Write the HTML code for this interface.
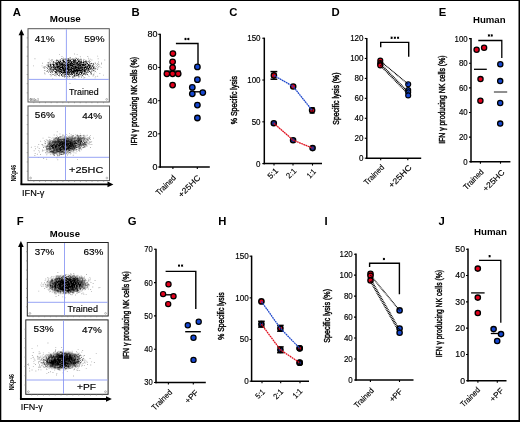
<!DOCTYPE html>
<html><head><meta charset="utf-8"><style>
html,body{margin:0;padding:0;background:#fff;}
svg{display:block;will-change:transform;}
text{font-family:"Liberation Sans", sans-serif;}
</style></head><body>
<svg width="520" height="422" viewBox="0 0 520 422" xmlns="http://www.w3.org/2000/svg">
<defs><filter id="gblur" x="0" y="0" width="100%" height="100%" filterUnits="userSpaceOnUse"><feGaussianBlur stdDeviation="0.3"/></filter></defs>
<g filter="url(#gblur)">
<defs><radialGradient id="cg"><stop offset="0" stop-color="#000" stop-opacity="0.88"/><stop offset="0.35" stop-color="#000" stop-opacity="0.84"/><stop offset="0.6" stop-color="#000" stop-opacity="0.7"/><stop offset="0.8" stop-color="#000" stop-opacity="0.46"/><stop offset="0.92" stop-color="#000" stop-opacity="0.22"/><stop offset="1" stop-color="#000" stop-opacity="0"/></radialGradient><radialGradient id="cgd"><stop offset="0" stop-color="#000" stop-opacity="1.0"/><stop offset="0.35" stop-color="#000" stop-opacity="0.96"/><stop offset="0.6" stop-color="#000" stop-opacity="0.8"/><stop offset="0.8" stop-color="#000" stop-opacity="0.5"/><stop offset="0.92" stop-color="#000" stop-opacity="0.24"/><stop offset="1" stop-color="#000" stop-opacity="0"/></radialGradient><filter id="sp1" x="-10%" y="-10%" width="120%" height="120%"><feTurbulence type="fractalNoise" baseFrequency="1.4" numOctaves="2" seed="5" result="n"/><feColorMatrix in="n" type="matrix" values="0 0 0 0 0  0 0 0 0 0  0 0 0 0 0  1.6 0 0 0 -0.5" result="na"/><feComposite in="SourceGraphic" in2="na" operator="arithmetic" k1="0" k2="1.5" k3="-1.5" k4="0"/></filter><filter id="sp2" x="-10%" y="-10%" width="120%" height="120%"><feTurbulence type="fractalNoise" baseFrequency="1.4" numOctaves="2" seed="10" result="n"/><feColorMatrix in="n" type="matrix" values="0 0 0 0 0  0 0 0 0 0  0 0 0 0 0  1.6 0 0 0 -0.5" result="na"/><feComposite in="SourceGraphic" in2="na" operator="arithmetic" k1="0" k2="1.5" k3="-1.5" k4="0"/></filter><filter id="sp3" x="-10%" y="-10%" width="120%" height="120%"><feTurbulence type="fractalNoise" baseFrequency="1.4" numOctaves="2" seed="15" result="n"/><feColorMatrix in="n" type="matrix" values="0 0 0 0 0  0 0 0 0 0  0 0 0 0 0  1.6 0 0 0 -0.5" result="na"/><feComposite in="SourceGraphic" in2="na" operator="arithmetic" k1="0" k2="1.5" k3="-1.5" k4="0"/></filter><filter id="sp4" x="-10%" y="-10%" width="120%" height="120%"><feTurbulence type="fractalNoise" baseFrequency="1.4" numOctaves="2" seed="20" result="n"/><feColorMatrix in="n" type="matrix" values="0 0 0 0 0  0 0 0 0 0  0 0 0 0 0  1.6 0 0 0 -0.5" result="na"/><feComposite in="SourceGraphic" in2="na" operator="arithmetic" k1="0" k2="1.5" k3="-1.5" k4="0"/></filter><filter id="soft" x="-5%" y="-5%" width="110%" height="110%"><feGaussianBlur stdDeviation="0.4"/></filter></defs>
<rect x="0" y="0" width="520" height="422" fill="#000"/>
<rect x="1.3" y="1" width="517.2" height="419" fill="#fff"/>
<text x="12.8" y="15.86" font-size="11.3" font-weight="bold">A</text>
<text x="131.45" y="16.08" font-size="11.3" font-weight="bold">B</text>
<text x="229.22" y="15.57" font-size="11.3" font-weight="bold">C</text>
<text x="331.58" y="15.78" font-size="11.3" font-weight="bold">D</text>
<text x="438.69" y="15.78" font-size="11.3" font-weight="bold">E</text>
<text x="16.69" y="224.97" font-size="11.3" font-weight="bold">F</text>
<text x="127.72" y="224.89" font-size="11.3" font-weight="bold">G</text>
<text x="218.36" y="225.45" font-size="11.3" font-weight="bold">H</text>
<text x="324.46" y="225.45" font-size="11.3" font-weight="bold">I</text>
<text x="438.47" y="225.47" font-size="11.3" font-weight="bold">J</text>
<text x="49.75" y="22.31" font-size="9.3" font-weight="bold" textLength="31.05" lengthAdjust="spacingAndGlyphs">Mouse</text>
<rect x="28.0" y="28.7" width="81.30" height="73.30" fill="#fff" stroke="#555" stroke-width="1.0"/>
<g filter="url(#soft)">
<ellipse cx="71.0" cy="67.6" rx="29.2" ry="10.9" fill="url(#cg)" fill-opacity="1.0" filter="url(#sp1)" transform="rotate(0 71.0 67.6)"/>
<path d="M71.0 68.8h.9v.9h-.9zM67.8 64.0h.9v.9h-.9zM65.7 63.6h.9v.9h-.9zM71.7 73.1h.9v.9h-.9zM65.2 65.1h.9v.9h-.9zM76.7 69.1h.9v.9h-.9zM72.2 63.8h.9v.9h-.9zM70.7 70.4h.9v.9h-.9zM55.3 65.7h.9v.9h-.9zM48.8 62.3h.9v.9h-.9zM49.5 66.6h.9v.9h-.9zM56.2 68.7h.9v.9h-.9zM72.8 66.8h.9v.9h-.9zM41.6 65.4h.9v.9h-.9zM70.4 68.1h.9v.9h-.9zM53.1 65.7h.9v.9h-.9zM59.6 64.3h.9v.9h-.9zM83.4 64.3h.9v.9h-.9zM70.6 71.2h.9v.9h-.9zM64.2 67.1h.9v.9h-.9zM72.3 67.9h.9v.9h-.9zM56.7 67.9h.9v.9h-.9zM86.9 61.3h.9v.9h-.9zM81.1 68.1h.9v.9h-.9zM63.5 75.8h.9v.9h-.9zM79.9 62.7h.9v.9h-.9zM71.9 70.0h.9v.9h-.9zM68.8 70.4h.9v.9h-.9zM70.2 70.3h.9v.9h-.9zM87.8 64.8h.9v.9h-.9zM73.4 65.7h.9v.9h-.9zM72.5 62.8h.9v.9h-.9zM64.2 66.8h.9v.9h-.9zM81.5 72.3h.9v.9h-.9zM55.5 64.4h.9v.9h-.9zM78.6 59.5h.9v.9h-.9zM65.6 67.2h.9v.9h-.9zM85.7 70.4h.9v.9h-.9zM67.2 66.1h.9v.9h-.9zM68.1 73.8h.9v.9h-.9zM66.0 66.4h.9v.9h-.9zM75.1 67.1h.9v.9h-.9zM68.7 63.1h.9v.9h-.9zM70.9 65.8h.9v.9h-.9zM84.6 70.3h.9v.9h-.9zM70.7 70.3h.9v.9h-.9zM67.0 71.9h.9v.9h-.9zM70.9 70.0h.9v.9h-.9zM55.9 69.0h.9v.9h-.9zM51.2 59.3h.9v.9h-.9zM67.4 63.9h.9v.9h-.9zM72.9 76.8h.9v.9h-.9zM61.3 65.1h.9v.9h-.9zM73.4 69.6h.9v.9h-.9zM68.9 66.8h.9v.9h-.9zM79.2 69.7h.9v.9h-.9zM58.9 67.3h.9v.9h-.9zM71.4 63.3h.9v.9h-.9zM74.0 64.1h.9v.9h-.9zM82.4 68.4h.9v.9h-.9zM72.0 65.2h.9v.9h-.9zM69.6 59.4h.9v.9h-.9zM57.8 69.1h.9v.9h-.9zM46.1 71.1h.9v.9h-.9zM50.6 70.7h.9v.9h-.9zM61.1 70.8h.9v.9h-.9zM72.5 61.3h.9v.9h-.9zM85.6 73.5h.9v.9h-.9zM70.2 66.5h.9v.9h-.9zM69.1 63.6h.9v.9h-.9zM83.9 65.4h.9v.9h-.9zM70.4 64.4h.9v.9h-.9zM63.7 62.4h.9v.9h-.9zM85.7 67.0h.9v.9h-.9zM82.3 67.7h.9v.9h-.9zM62.9 66.3h.9v.9h-.9zM64.4 67.6h.9v.9h-.9zM66.6 66.4h.9v.9h-.9zM54.9 64.3h.9v.9h-.9zM90.4 64.9h.9v.9h-.9zM58.7 69.0h.9v.9h-.9zM87.5 61.7h.9v.9h-.9zM68.6 65.0h.9v.9h-.9zM50.4 70.6h.9v.9h-.9zM70.7 67.9h.9v.9h-.9zM62.2 69.5h.9v.9h-.9zM64.7 67.0h.9v.9h-.9zM58.0 62.6h.9v.9h-.9zM86.6 65.5h.9v.9h-.9zM74.4 67.5h.9v.9h-.9zM65.8 65.5h.9v.9h-.9zM78.4 66.4h.9v.9h-.9zM69.2 67.7h.9v.9h-.9zM84.8 70.4h.9v.9h-.9zM75.5 65.3h.9v.9h-.9zM54.8 71.5h.9v.9h-.9zM82.3 67.0h.9v.9h-.9zM77.3 70.8h.9v.9h-.9zM80.7 71.4h.9v.9h-.9zM65.7 73.8h.9v.9h-.9zM56.4 71.1h.9v.9h-.9zM76.8 71.2h.9v.9h-.9zM93.0 73.7h.9v.9h-.9zM57.6 60.7h.9v.9h-.9zM80.6 63.5h.9v.9h-.9zM70.9 71.0h.9v.9h-.9zM51.8 59.0h.9v.9h-.9zM74.0 67.8h.9v.9h-.9zM68.1 67.8h.9v.9h-.9zM60.9 61.4h.9v.9h-.9zM69.1 63.6h.9v.9h-.9zM51.8 69.7h.9v.9h-.9zM70.3 69.3h.9v.9h-.9zM59.4 64.9h.9v.9h-.9zM59.3 64.0h.9v.9h-.9zM73.3 64.4h.9v.9h-.9zM75.2 69.0h.9v.9h-.9zM94.7 61.9h.9v.9h-.9zM81.4 67.2h.9v.9h-.9zM70.8 61.7h.9v.9h-.9zM65.6 70.6h.9v.9h-.9zM70.0 67.9h.9v.9h-.9zM67.6 72.3h.9v.9h-.9zM70.7 58.6h.9v.9h-.9zM62.9 59.6h.9v.9h-.9zM33.0 65.4h.9v.9h-.9zM86.6 67.8h.9v.9h-.9zM57.3 63.8h.9v.9h-.9zM84.2 68.2h.9v.9h-.9zM71.6 67.4h.9v.9h-.9zM71.4 70.9h.9v.9h-.9zM77.5 68.5h.9v.9h-.9zM58.8 69.7h.9v.9h-.9zM63.0 72.1h.9v.9h-.9zM56.1 67.0h.9v.9h-.9zM70.9 62.2h.9v.9h-.9zM91.1 73.6h.9v.9h-.9zM65.6 70.7h.9v.9h-.9zM75.4 56.9h.9v.9h-.9zM73.9 67.3h.9v.9h-.9zM72.0 63.2h.9v.9h-.9zM67.8 66.9h.9v.9h-.9zM84.9 69.0h.9v.9h-.9zM70.9 73.8h.9v.9h-.9zM64.5 66.0h.9v.9h-.9zM49.7 74.0h.9v.9h-.9zM82.3 71.3h.9v.9h-.9zM78.8 68.0h.9v.9h-.9zM73.5 66.6h.9v.9h-.9zM68.6 67.8h.9v.9h-.9zM88.7 69.9h.9v.9h-.9zM70.3 65.2h.9v.9h-.9zM63.6 74.1h.9v.9h-.9zM76.9 67.9h.9v.9h-.9zM66.9 63.1h.9v.9h-.9zM70.2 71.2h.9v.9h-.9zM66.4 66.7h.9v.9h-.9zM68.4 68.0h.9v.9h-.9zM52.4 66.6h.9v.9h-.9zM61.0 71.2h.9v.9h-.9zM62.0 70.0h.9v.9h-.9zM88.8 66.3h.9v.9h-.9zM64.0 68.4h.9v.9h-.9zM71.0 63.5h.9v.9h-.9zM76.4 75.8h.9v.9h-.9zM68.0 66.8h.9v.9h-.9zM58.8 68.9h.9v.9h-.9zM56.4 63.1h.9v.9h-.9zM86.0 63.9h.9v.9h-.9zM83.7 73.8h.9v.9h-.9zM74.0 69.9h.9v.9h-.9zM93.8 66.8h.9v.9h-.9zM64.1 62.1h.9v.9h-.9zM71.5 73.6h.9v.9h-.9zM82.2 63.8h.9v.9h-.9zM61.0 65.5h.9v.9h-.9zM74.4 66.8h.9v.9h-.9zM73.5 68.8h.9v.9h-.9zM67.5 67.4h.9v.9h-.9zM73.4 67.3h.9v.9h-.9zM76.9 75.2h.9v.9h-.9zM77.9 67.8h.9v.9h-.9zM51.3 69.2h.9v.9h-.9zM48.2 61.9h.9v.9h-.9zM81.0 70.5h.9v.9h-.9zM69.2 60.6h.9v.9h-.9zM66.7 64.8h.9v.9h-.9zM78.5 76.8h.9v.9h-.9zM73.5 64.4h.9v.9h-.9zM57.3 67.4h.9v.9h-.9zM68.9 62.9h.9v.9h-.9zM72.4 62.9h.9v.9h-.9zM84.0 71.9h.9v.9h-.9zM83.7 65.7h.9v.9h-.9zM77.0 67.1h.9v.9h-.9zM66.5 66.2h.9v.9h-.9zM55.8 61.7h.9v.9h-.9zM80.3 66.8h.9v.9h-.9zM73.5 71.7h.9v.9h-.9zM50.7 64.4h.9v.9h-.9zM73.1 69.2h.9v.9h-.9zM66.6 71.8h.9v.9h-.9zM73.5 62.6h.9v.9h-.9zM60.1 70.9h.9v.9h-.9zM76.4 59.9h.9v.9h-.9zM86.8 70.0h.9v.9h-.9zM86.7 66.0h.9v.9h-.9zM67.5 63.0h.9v.9h-.9zM100.7 66.9h.9v.9h-.9zM89.6 65.0h.9v.9h-.9zM72.9 60.8h.9v.9h-.9zM66.5 71.6h.9v.9h-.9zM56.4 72.0h.9v.9h-.9zM74.9 63.3h.9v.9h-.9zM65.1 65.7h.9v.9h-.9zM70.4 65.4h.9v.9h-.9zM61.3 66.4h.9v.9h-.9zM59.0 62.3h.9v.9h-.9zM70.4 71.2h.9v.9h-.9zM53.1 67.6h.9v.9h-.9zM63.4 63.6h.9v.9h-.9zM81.0 65.5h.9v.9h-.9zM88.5 64.4h.9v.9h-.9zM75.5 66.7h.9v.9h-.9zM62.2 70.0h.9v.9h-.9zM69.2 70.1h.9v.9h-.9zM70.4 63.2h.9v.9h-.9zM69.8 67.8h.9v.9h-.9zM82.2 63.9h.9v.9h-.9zM70.5 60.6h.9v.9h-.9zM78.6 63.2h.9v.9h-.9zM49.9 67.4h.9v.9h-.9zM83.9 61.4h.9v.9h-.9zM58.3 64.6h.9v.9h-.9zM57.8 69.1h.9v.9h-.9zM61.6 64.7h.9v.9h-.9zM77.8 64.5h.9v.9h-.9zM76.1 63.6h.9v.9h-.9zM56.8 60.1h.9v.9h-.9zM92.8 66.3h.9v.9h-.9zM73.9 67.5h.9v.9h-.9zM72.9 67.8h.9v.9h-.9zM93.3 63.4h.9v.9h-.9zM52.8 63.5h.9v.9h-.9zM55.4 70.6h.9v.9h-.9zM80.6 63.7h.9v.9h-.9zM54.7 66.2h.9v.9h-.9zM87.3 56.1h.9v.9h-.9zM77.2 63.2h.9v.9h-.9zM83.2 63.2h.9v.9h-.9zM67.7 61.5h.9v.9h-.9zM59.6 73.3h.9v.9h-.9zM80.6 66.0h.9v.9h-.9zM60.8 59.9h.9v.9h-.9zM66.4 67.5h.9v.9h-.9zM70.0 67.2h.9v.9h-.9zM57.9 67.3h.9v.9h-.9zM70.5 72.9h.9v.9h-.9zM92.8 67.0h.9v.9h-.9zM62.0 67.3h.9v.9h-.9zM63.9 64.6h.9v.9h-.9zM70.3 63.3h.9v.9h-.9zM78.1 67.2h.9v.9h-.9zM73.9 66.9h.9v.9h-.9zM62.5 63.7h.9v.9h-.9zM68.2 65.4h.9v.9h-.9zM73.7 67.6h.9v.9h-.9zM55.1 67.9h.9v.9h-.9zM55.3 65.1h.9v.9h-.9zM67.6 59.1h.9v.9h-.9zM72.1 68.2h.9v.9h-.9zM69.2 65.9h.9v.9h-.9zM66.6 63.6h.9v.9h-.9zM67.8 65.3h.9v.9h-.9zM72.1 62.7h.9v.9h-.9zM73.8 68.2h.9v.9h-.9zM69.3 65.8h.9v.9h-.9zM77.5 60.8h.9v.9h-.9zM76.4 68.6h.9v.9h-.9zM74.3 69.2h.9v.9h-.9zM63.4 66.5h.9v.9h-.9zM78.5 69.4h.9v.9h-.9zM73.4 61.4h.9v.9h-.9zM77.3 72.4h.9v.9h-.9zM82.8 68.6h.9v.9h-.9zM52.8 71.4h.9v.9h-.9zM69.3 57.3h.9v.9h-.9zM75.4 61.5h.9v.9h-.9zM55.8 65.0h.9v.9h-.9zM85.9 66.1h.9v.9h-.9zM74.2 74.7h.9v.9h-.9zM89.7 67.2h.9v.9h-.9zM68.2 62.5h.9v.9h-.9zM62.9 69.3h.9v.9h-.9zM75.6 68.0h.9v.9h-.9zM82.6 64.4h.9v.9h-.9zM70.3 70.6h.9v.9h-.9zM77.8 72.0h.9v.9h-.9zM75.6 66.3h.9v.9h-.9zM75.2 63.5h.9v.9h-.9zM51.8 70.0h.9v.9h-.9zM70.4 68.9h.9v.9h-.9zM51.1 66.1h.9v.9h-.9zM64.0 64.1h.9v.9h-.9zM44.6 66.2h.9v.9h-.9zM81.5 69.2h.9v.9h-.9zM64.0 67.5h.9v.9h-.9zM79.9 56.3h.9v.9h-.9zM69.5 69.8h.9v.9h-.9zM79.0 74.5h.9v.9h-.9zM84.3 68.9h.9v.9h-.9zM74.5 70.8h.9v.9h-.9zM64.7 67.4h.9v.9h-.9zM81.6 75.6h.9v.9h-.9zM69.1 67.4h.9v.9h-.9zM73.3 73.1h.9v.9h-.9zM70.6 73.6h.9v.9h-.9zM59.7 66.8h.9v.9h-.9zM68.7 70.8h.9v.9h-.9zM83.2 61.4h.9v.9h-.9zM60.3 69.0h.9v.9h-.9zM63.3 61.4h.9v.9h-.9zM83.2 69.6h.9v.9h-.9zM76.8 65.7h.9v.9h-.9zM83.0 66.6h.9v.9h-.9zM83.8 63.9h.9v.9h-.9zM61.0 68.4h.9v.9h-.9zM62.8 70.4h.9v.9h-.9zM74.0 63.8h.9v.9h-.9zM71.9 66.2h.9v.9h-.9zM81.7 65.0h.9v.9h-.9zM65.9 72.5h.9v.9h-.9zM97.2 75.8h.9v.9h-.9zM71.7 68.5h.9v.9h-.9zM88.9 67.1h.9v.9h-.9zM59.6 68.1h.9v.9h-.9zM76.3 64.2h.9v.9h-.9zM51.7 61.7h.9v.9h-.9zM78.8 64.5h.9v.9h-.9zM69.3 68.5h.9v.9h-.9zM78.2 66.2h.9v.9h-.9zM76.8 64.0h.9v.9h-.9zM66.8 63.4h.9v.9h-.9zM84.2 67.5h.9v.9h-.9zM62.4 66.2h.9v.9h-.9zM68.4 70.5h.9v.9h-.9zM52.3 63.4h.9v.9h-.9zM66.6 77.9h.9v.9h-.9zM82.2 67.1h.9v.9h-.9zM79.3 76.0h.9v.9h-.9zM68.3 66.1h.9v.9h-.9zM85.2 69.6h.9v.9h-.9zM78.9 65.5h.9v.9h-.9zM93.5 74.6h.9v.9h-.9zM77.6 70.4h.9v.9h-.9zM47.3 70.2h.9v.9h-.9zM68.7 69.4h.9v.9h-.9zM79.0 66.2h.9v.9h-.9zM51.2 69.1h.9v.9h-.9zM62.3 66.3h.9v.9h-.9zM63.9 66.2h.9v.9h-.9zM44.0 72.6h.9v.9h-.9zM74.0 72.1h.9v.9h-.9zM94.2 67.7h.9v.9h-.9zM49.9 64.0h.9v.9h-.9zM56.9 65.6h.9v.9h-.9zM71.9 59.4h.9v.9h-.9zM75.0 61.4h.9v.9h-.9zM74.5 67.2h.9v.9h-.9zM67.3 67.3h.9v.9h-.9zM64.7 65.1h.9v.9h-.9zM51.3 67.5h.9v.9h-.9zM92.6 75.7h.9v.9h-.9zM86.5 70.5h.9v.9h-.9zM63.1 73.5h.9v.9h-.9zM70.3 67.3h.9v.9h-.9zM67.6 68.0h.9v.9h-.9zM65.9 67.3h.9v.9h-.9zM58.3 66.1h.9v.9h-.9zM97.7 67.3h.9v.9h-.9zM68.2 69.8h.9v.9h-.9zM79.3 63.1h.9v.9h-.9zM68.6 71.3h.9v.9h-.9zM74.2 68.1h.9v.9h-.9zM89.2 64.8h.9v.9h-.9zM72.0 65.5h.9v.9h-.9zM88.4 59.6h.9v.9h-.9zM63.2 65.4h.9v.9h-.9zM78.8 70.1h.9v.9h-.9zM87.3 61.2h.9v.9h-.9zM79.8 66.4h.9v.9h-.9zM63.2 69.8h.9v.9h-.9zM60.2 59.1h.9v.9h-.9zM66.7 61.5h.9v.9h-.9zM63.4 69.1h.9v.9h-.9zM74.7 74.1h.9v.9h-.9zM68.7 61.3h.9v.9h-.9zM62.2 63.8h.9v.9h-.9zM56.8 69.4h.9v.9h-.9zM63.5 59.5h.9v.9h-.9zM79.2 67.1h.9v.9h-.9zM75.2 68.0h.9v.9h-.9zM78.4 67.8h.9v.9h-.9zM85.5 69.3h.9v.9h-.9zM75.6 69.3h.9v.9h-.9zM54.0 66.9h.9v.9h-.9zM68.0 68.4h.9v.9h-.9zM55.1 74.3h.9v.9h-.9zM72.2 62.7h.9v.9h-.9zM51.0 66.5h.9v.9h-.9zM70.0 64.7h.9v.9h-.9zM72.1 65.0h.9v.9h-.9zM77.5 64.6h.9v.9h-.9zM70.5 71.6h.9v.9h-.9zM101.1 63.5h.9v.9h-.9zM65.6 64.2h.9v.9h-.9zM80.2 62.9h.9v.9h-.9zM65.3 67.5h.9v.9h-.9zM59.5 63.7h.9v.9h-.9zM65.4 59.0h.9v.9h-.9zM54.1 65.9h.9v.9h-.9zM72.7 66.8h.9v.9h-.9zM50.2 65.7h.9v.9h-.9zM80.3 69.9h.9v.9h-.9zM70.1 64.0h.9v.9h-.9zM78.4 65.2h.9v.9h-.9zM57.3 64.3h.9v.9h-.9zM87.9 68.5h.9v.9h-.9zM84.6 65.6h.9v.9h-.9zM82.0 65.1h.9v.9h-.9zM69.2 77.7h.9v.9h-.9zM80.0 65.6h.9v.9h-.9zM70.0 68.9h.9v.9h-.9zM85.2 65.6h.9v.9h-.9zM50.6 66.5h.9v.9h-.9zM71.2 68.0h.9v.9h-.9zM86.4 68.9h.9v.9h-.9zM80.5 63.1h.9v.9h-.9zM81.2 76.2h.9v.9h-.9zM80.0 68.6h.9v.9h-.9zM72.8 74.9h.9v.9h-.9zM60.2 67.1h.9v.9h-.9zM76.4 70.6h.9v.9h-.9zM65.9 68.9h.9v.9h-.9zM67.7 68.1h.9v.9h-.9zM69.5 62.9h.9v.9h-.9zM70.8 71.2h.9v.9h-.9zM59.7 66.6h.9v.9h-.9zM78.8 63.2h.9v.9h-.9zM73.1 63.3h.9v.9h-.9zM84.3 77.0h.9v.9h-.9zM94.7 66.7h.9v.9h-.9zM79.7 68.1h.9v.9h-.9zM72.2 73.9h.9v.9h-.9zM55.6 71.9h.9v.9h-.9zM70.4 73.3h.9v.9h-.9zM73.2 64.9h.9v.9h-.9zM74.2 70.6h.9v.9h-.9zM71.4 69.6h.9v.9h-.9zM64.9 58.9h.9v.9h-.9zM81.5 70.5h.9v.9h-.9zM72.7 67.9h.9v.9h-.9zM83.1 65.7h.9v.9h-.9zM62.7 66.8h.9v.9h-.9zM84.9 61.9h.9v.9h-.9zM84.9 65.0h.9v.9h-.9zM58.1 72.7h.9v.9h-.9zM69.9 62.3h.9v.9h-.9zM66.8 71.4h.9v.9h-.9zM84.9 65.9h.9v.9h-.9zM75.8 70.5h.9v.9h-.9zM63.5 69.0h.9v.9h-.9zM70.6 65.4h.9v.9h-.9zM65.2 67.9h.9v.9h-.9zM71.3 65.3h.9v.9h-.9zM66.0 72.1h.9v.9h-.9zM73.5 71.2h.9v.9h-.9zM85.1 70.0h.9v.9h-.9zM97.6 64.2h.9v.9h-.9zM80.5 66.3h.9v.9h-.9zM92.7 74.5h.9v.9h-.9zM48.1 63.6h.9v.9h-.9zM78.8 70.8h.9v.9h-.9zM79.6 67.3h.9v.9h-.9zM76.3 70.3h.9v.9h-.9zM70.1 71.8h.9v.9h-.9zM44.6 70.2h.9v.9h-.9zM58.9 71.5h.9v.9h-.9zM68.3 64.0h.9v.9h-.9zM75.4 63.9h.9v.9h-.9zM60.3 61.2h.9v.9h-.9zM70.7 69.6h.9v.9h-.9zM83.0 67.0h.9v.9h-.9zM83.3 67.7h.9v.9h-.9zM69.9 69.9h.9v.9h-.9zM83.4 66.2h.9v.9h-.9zM68.1 66.9h.9v.9h-.9zM72.0 63.9h.9v.9h-.9zM83.0 66.0h.9v.9h-.9zM76.4 64.2h.9v.9h-.9zM75.2 69.2h.9v.9h-.9zM66.1 75.8h.9v.9h-.9zM75.3 74.8h.9v.9h-.9zM82.2 64.9h.9v.9h-.9zM66.5 69.4h.9v.9h-.9zM71.7 67.8h.9v.9h-.9zM67.7 60.2h.9v.9h-.9zM68.4 58.6h.9v.9h-.9zM75.4 64.6h.9v.9h-.9zM62.6 66.7h.9v.9h-.9zM74.2 61.8h.9v.9h-.9zM50.5 63.3h.9v.9h-.9zM47.1 63.7h.9v.9h-.9zM89.6 63.3h.9v.9h-.9zM78.6 62.0h.9v.9h-.9zM74.5 66.3h.9v.9h-.9zM70.3 69.9h.9v.9h-.9zM91.5 68.4h.9v.9h-.9zM72.5 63.6h.9v.9h-.9zM77.8 66.6h.9v.9h-.9zM80.7 67.4h.9v.9h-.9zM91.4 59.5h.9v.9h-.9zM67.5 71.2h.9v.9h-.9zM66.9 64.4h.9v.9h-.9zM67.9 62.0h.9v.9h-.9zM72.4 77.6h.9v.9h-.9zM84.4 63.1h.9v.9h-.9zM60.8 65.9h.9v.9h-.9zM82.8 64.2h.9v.9h-.9zM62.9 71.2h.9v.9h-.9zM81.1 66.1h.9v.9h-.9zM57.9 61.3h.9v.9h-.9zM62.8 58.5h.9v.9h-.9zM79.8 65.0h.9v.9h-.9zM76.6 75.2h.9v.9h-.9zM84.7 62.9h.9v.9h-.9zM81.2 72.3h.9v.9h-.9zM62.3 63.7h.9v.9h-.9zM69.7 61.1h.9v.9h-.9zM88.2 57.8h.9v.9h-.9zM58.1 66.5h.9v.9h-.9zM68.3 68.3h.9v.9h-.9zM74.2 66.7h.9v.9h-.9zM84.3 58.9h.9v.9h-.9zM71.0 64.7h.9v.9h-.9zM72.6 68.5h.9v.9h-.9zM60.3 65.0h.9v.9h-.9zM80.3 69.0h.9v.9h-.9zM63.0 75.9h.9v.9h-.9zM98.0 61.6h.9v.9h-.9zM74.5 77.8h.9v.9h-.9zM80.2 68.5h.9v.9h-.9zM68.6 65.4h.9v.9h-.9zM68.5 65.4h.9v.9h-.9zM79.7 66.0h.9v.9h-.9zM65.8 62.7h.9v.9h-.9zM70.4 64.0h.9v.9h-.9zM68.9 71.9h.9v.9h-.9zM75.3 69.7h.9v.9h-.9zM75.2 67.8h.9v.9h-.9zM69.5 66.3h.9v.9h-.9zM79.9 63.2h.9v.9h-.9zM86.7 67.7h.9v.9h-.9zM62.2 65.6h.9v.9h-.9zM63.1 68.3h.9v.9h-.9zM62.6 72.3h.9v.9h-.9zM61.9 58.3h.9v.9h-.9zM62.4 59.4h.9v.9h-.9zM70.5 71.9h.9v.9h-.9zM78.6 62.1h.9v.9h-.9zM62.1 74.9h.9v.9h-.9zM74.7 67.6h.9v.9h-.9zM83.4 77.6h.9v.9h-.9zM86.2 68.2h.9v.9h-.9zM75.1 70.1h.9v.9h-.9zM63.8 63.3h.9v.9h-.9zM71.6 63.7h.9v.9h-.9zM70.3 68.0h.9v.9h-.9zM98.4 64.1h.9v.9h-.9zM69.6 66.9h.9v.9h-.9zM76.1 71.9h.9v.9h-.9zM65.3 64.2h.9v.9h-.9zM51.8 63.8h.9v.9h-.9zM77.3 67.8h.9v.9h-.9zM59.1 66.1h.9v.9h-.9zM71.4 69.7h.9v.9h-.9zM64.1 66.6h.9v.9h-.9zM49.7 62.9h.9v.9h-.9zM89.9 58.7h.9v.9h-.9zM67.0 68.5h.9v.9h-.9zM66.6 64.3h.9v.9h-.9zM70.3 67.6h.9v.9h-.9zM70.0 59.9h.9v.9h-.9zM69.3 64.1h.9v.9h-.9zM64.6 68.5h.9v.9h-.9zM78.5 71.3h.9v.9h-.9zM65.2 71.4h.9v.9h-.9zM84.7 72.2h.9v.9h-.9zM87.3 67.0h.9v.9h-.9zM69.0 71.0h.9v.9h-.9zM48.3 68.7h.9v.9h-.9zM62.2 65.6h.9v.9h-.9zM42.1 62.8h.9v.9h-.9zM70.7 72.4h.9v.9h-.9zM87.4 67.2h.9v.9h-.9zM67.9 63.1h.9v.9h-.9zM77.7 66.3h.9v.9h-.9zM81.0 77.1h.9v.9h-.9zM70.5 59.5h.9v.9h-.9zM56.7 59.7h.9v.9h-.9zM51.2 74.7h.9v.9h-.9zM74.8 59.3h.9v.9h-.9zM81.8 74.5h.9v.9h-.9zM65.0 63.9h.9v.9h-.9zM65.4 69.1h.9v.9h-.9zM81.6 74.0h.9v.9h-.9zM91.1 74.0h.9v.9h-.9zM93.6 71.2h.9v.9h-.9zM45.6 66.9h.9v.9h-.9zM76.2 65.5h.9v.9h-.9zM86.1 65.6h.9v.9h-.9zM55.7 75.5h.9v.9h-.9zM82.0 68.8h.9v.9h-.9zM86.4 73.4h.9v.9h-.9zM76.7 54.2h.9v.9h-.9zM59.8 65.1h.9v.9h-.9zM54.7 68.7h.9v.9h-.9zM90.8 65.0h.9v.9h-.9zM52.2 78.6h.9v.9h-.9zM63.5 60.9h.9v.9h-.9zM74.9 69.9h.9v.9h-.9zM59.3 71.9h.9v.9h-.9zM62.9 62.6h.9v.9h-.9zM74.0 71.8h.9v.9h-.9zM60.5 69.4h.9v.9h-.9zM69.5 83.0h.9v.9h-.9zM59.3 75.1h.9v.9h-.9zM70.1 66.9h.9v.9h-.9zM83.0 72.5h.9v.9h-.9zM92.0 69.4h.9v.9h-.9zM61.0 64.7h.9v.9h-.9zM79.4 70.8h.9v.9h-.9zM94.2 69.9h.9v.9h-.9zM88.6 75.9h.9v.9h-.9zM73.7 59.5h.9v.9h-.9zM51.5 59.8h.9v.9h-.9zM97.4 63.0h.9v.9h-.9zM91.4 70.8h.9v.9h-.9zM99.4 73.1h.9v.9h-.9zM69.3 66.5h.9v.9h-.9zM72.4 68.6h.9v.9h-.9zM62.2 67.4h.9v.9h-.9zM97.7 58.3h.9v.9h-.9zM75.3 62.7h.9v.9h-.9zM74.1 72.2h.9v.9h-.9zM70.0 71.8h.9v.9h-.9zM44.6 73.6h.9v.9h-.9zM61.0 71.0h.9v.9h-.9zM74.0 53.5h.9v.9h-.9zM58.5 68.8h.9v.9h-.9zM96.8 69.2h.9v.9h-.9zM75.3 59.9h.9v.9h-.9zM94.7 77.4h.9v.9h-.9zM71.5 66.4h.9v.9h-.9zM44.2 72.4h.9v.9h-.9zM91.9 70.5h.9v.9h-.9zM54.7 74.9h.9v.9h-.9zM50.5 66.5h.9v.9h-.9zM75.6 72.4h.9v.9h-.9zM77.9 69.7h.9v.9h-.9zM58.4 60.6h.9v.9h-.9zM72.0 63.7h.9v.9h-.9zM49.3 60.7h.9v.9h-.9zM62.9 57.5h.9v.9h-.9zM48.7 58.7h.9v.9h-.9zM74.0 69.8h.9v.9h-.9zM104.3 59.5h.9v.9h-.9zM59.7 72.6h.9v.9h-.9zM67.4 65.8h.9v.9h-.9zM99.3 65.8h.9v.9h-.9zM51.8 60.4h.9v.9h-.9zM76.6 69.3h.9v.9h-.9zM48.3 62.2h.9v.9h-.9zM79.9 70.7h.9v.9h-.9zM60.3 71.0h.9v.9h-.9zM80.5 57.9h.9v.9h-.9zM65.8 69.9h.9v.9h-.9zM61.5 56.0h.9v.9h-.9zM66.3 71.7h.9v.9h-.9zM97.2 55.7h.9v.9h-.9zM86.9 74.3h.9v.9h-.9zM87.3 68.4h.9v.9h-.9zM51.7 71.0h.9v.9h-.9zM59.1 53.9h.9v.9h-.9zM101.1 62.6h.9v.9h-.9zM95.3 76.2h.9v.9h-.9zM96.8 67.5h.9v.9h-.9zM51.1 66.6h.9v.9h-.9zM34.5 58.3h.9v.9h-.9zM72.5 62.2h.9v.9h-.9zM68.3 67.0h.9v.9h-.9zM103.0 74.7h.9v.9h-.9zM70.3 74.2h.9v.9h-.9zM58.1 65.8h.9v.9h-.9zM86.1 60.8h.9v.9h-.9zM66.4 60.4h.9v.9h-.9zM72.9 76.5h.9v.9h-.9zM58.5 68.8h.9v.9h-.9zM56.1 61.3h.9v.9h-.9zM50.5 75.5h.9v.9h-.9zM59.1 71.4h.9v.9h-.9zM65.5 72.0h.9v.9h-.9zM75.8 69.1h.9v.9h-.9zM81.1 64.4h.9v.9h-.9zM64.3 58.2h.9v.9h-.9zM63.7 59.9h.9v.9h-.9z" fill="#000" fill-opacity="0.32"/>
</g>
<path d="M66.40 29.20L66.40 101.50" stroke="#8c9af3" stroke-width="0.9"/>
<path d="M28.50 79.40L108.80 79.40" stroke="#8c9af3" stroke-width="0.9"/>
<path d="M26.70 37.86L28.00 37.86" stroke="#777" stroke-width="0.6"/>
<path d="M26.70 47.02L28.00 47.02" stroke="#777" stroke-width="0.6"/>
<path d="M26.70 56.19L28.00 56.19" stroke="#777" stroke-width="0.6"/>
<path d="M26.70 65.35L28.00 65.35" stroke="#777" stroke-width="0.6"/>
<path d="M26.70 74.51L28.00 74.51" stroke="#777" stroke-width="0.6"/>
<path d="M26.70 83.67L28.00 83.67" stroke="#777" stroke-width="0.6"/>
<path d="M26.70 92.84L28.00 92.84" stroke="#777" stroke-width="0.6"/>
<path d="M33.81 102.00L33.81 103.20" stroke="#777" stroke-width="0.6"/>
<path d="M39.61 102.00L39.61 103.20" stroke="#777" stroke-width="0.6"/>
<path d="M45.42 102.00L45.42 103.20" stroke="#777" stroke-width="0.6"/>
<path d="M51.23 102.00L51.23 103.20" stroke="#777" stroke-width="0.6"/>
<path d="M57.04 102.00L57.04 103.20" stroke="#777" stroke-width="0.6"/>
<path d="M62.84 102.00L62.84 103.20" stroke="#777" stroke-width="0.6"/>
<path d="M68.65 102.00L68.65 103.20" stroke="#777" stroke-width="0.6"/>
<path d="M74.46 102.00L74.46 103.20" stroke="#777" stroke-width="0.6"/>
<path d="M80.26 102.00L80.26 103.20" stroke="#777" stroke-width="0.6"/>
<path d="M86.07 102.00L86.07 103.20" stroke="#777" stroke-width="0.6"/>
<path d="M91.88 102.00L91.88 103.20" stroke="#777" stroke-width="0.6"/>
<path d="M97.69 102.00L97.69 103.20" stroke="#777" stroke-width="0.6"/>
<path d="M103.49 102.00L103.49 103.20" stroke="#777" stroke-width="0.6"/>
<circle cx="30.6" cy="99.4" r="0.9" fill="none" stroke="#777" stroke-width="0.5"/>
<circle cx="106.7" cy="99.4" r="0.9" fill="none" stroke="#777" stroke-width="0.5"/>
<text x="30.2" y="100.6" font-size="3.6" fill="#333" textLength="8.5" lengthAdjust="spacingAndGlyphs">8.60e-3</text>
<text x="34.7" y="42.05" font-size="8.8" textLength="20.06" lengthAdjust="spacingAndGlyphs" stroke="#000" stroke-width="0.15">41%</text>
<text x="84.18" y="41.93" font-size="8.8" textLength="20.45" lengthAdjust="spacingAndGlyphs" stroke="#000" stroke-width="0.15">59%</text>
<text x="69.02" y="94.66" font-size="8.8" textLength="29.61" lengthAdjust="spacingAndGlyphs" stroke="#000" stroke-width="0.15">Trained</text>
<rect x="28.0" y="106.0" width="81.50" height="74.60" fill="#fff" stroke="#555" stroke-width="1.0"/>
<g filter="url(#soft)">
<ellipse cx="60.5" cy="146.0" rx="18.0" ry="10.6" fill="url(#cg)" fill-opacity="1.0" filter="url(#sp2)" transform="rotate(-6 60.5 146.0)"/>
<ellipse cx="76.0" cy="142.3" rx="17.2" ry="9.3" fill="url(#cg)" fill-opacity="0.78" filter="url(#sp2)" transform="rotate(-8 76.0 142.3)"/>
<path d="M62.1 141.1h.9v.9h-.9zM65.2 146.1h.9v.9h-.9zM50.1 143.3h.9v.9h-.9zM55.4 148.6h.9v.9h-.9zM80.7 145.5h.9v.9h-.9zM61.5 150.5h.9v.9h-.9zM50.4 152.2h.9v.9h-.9zM56.3 134.8h.9v.9h-.9zM90.0 147.0h.9v.9h-.9zM54.3 146.5h.9v.9h-.9zM62.0 145.2h.9v.9h-.9zM49.5 143.9h.9v.9h-.9zM68.6 144.7h.9v.9h-.9zM75.4 143.2h.9v.9h-.9zM86.0 138.6h.9v.9h-.9zM65.4 136.9h.9v.9h-.9zM52.8 151.2h.9v.9h-.9zM55.3 147.8h.9v.9h-.9zM62.9 140.6h.9v.9h-.9zM60.4 143.0h.9v.9h-.9zM59.8 148.0h.9v.9h-.9zM69.9 141.4h.9v.9h-.9zM55.5 146.8h.9v.9h-.9zM63.6 148.5h.9v.9h-.9zM89.7 144.2h.9v.9h-.9zM63.6 143.9h.9v.9h-.9zM55.4 142.2h.9v.9h-.9zM54.2 144.3h.9v.9h-.9zM60.3 147.9h.9v.9h-.9zM60.1 144.3h.9v.9h-.9zM53.3 152.4h.9v.9h-.9zM69.8 150.6h.9v.9h-.9zM72.4 149.1h.9v.9h-.9zM62.0 147.6h.9v.9h-.9zM89.1 136.2h.9v.9h-.9zM76.1 149.4h.9v.9h-.9zM68.4 146.8h.9v.9h-.9zM75.8 140.2h.9v.9h-.9zM67.5 140.6h.9v.9h-.9zM57.1 143.0h.9v.9h-.9zM62.7 145.3h.9v.9h-.9zM67.6 138.4h.9v.9h-.9zM83.9 146.3h.9v.9h-.9zM70.9 142.1h.9v.9h-.9zM63.4 146.8h.9v.9h-.9zM67.1 137.4h.9v.9h-.9zM72.8 154.8h.9v.9h-.9zM46.5 150.9h.9v.9h-.9zM67.5 143.6h.9v.9h-.9zM76.7 138.0h.9v.9h-.9zM66.4 150.0h.9v.9h-.9zM61.8 143.1h.9v.9h-.9zM64.9 142.6h.9v.9h-.9zM78.6 138.8h.9v.9h-.9zM71.8 138.4h.9v.9h-.9zM70.5 143.2h.9v.9h-.9zM38.8 148.0h.9v.9h-.9zM53.3 144.2h.9v.9h-.9zM78.4 138.0h.9v.9h-.9zM54.4 151.6h.9v.9h-.9zM66.0 150.4h.9v.9h-.9zM66.7 140.6h.9v.9h-.9zM64.0 149.4h.9v.9h-.9zM73.2 143.2h.9v.9h-.9zM64.4 144.0h.9v.9h-.9zM59.4 152.8h.9v.9h-.9zM63.4 140.1h.9v.9h-.9zM59.7 148.0h.9v.9h-.9zM70.2 143.1h.9v.9h-.9zM57.5 145.5h.9v.9h-.9zM46.9 141.7h.9v.9h-.9zM71.5 141.5h.9v.9h-.9zM68.3 148.7h.9v.9h-.9zM70.4 143.7h.9v.9h-.9zM85.2 144.2h.9v.9h-.9zM60.9 147.8h.9v.9h-.9zM67.5 140.6h.9v.9h-.9zM64.6 143.8h.9v.9h-.9zM44.7 146.5h.9v.9h-.9zM61.0 143.2h.9v.9h-.9zM47.7 145.4h.9v.9h-.9zM63.7 145.0h.9v.9h-.9zM53.2 148.5h.9v.9h-.9zM52.0 145.3h.9v.9h-.9zM76.4 140.0h.9v.9h-.9zM59.6 149.4h.9v.9h-.9zM60.1 143.9h.9v.9h-.9zM66.7 148.3h.9v.9h-.9zM42.0 144.3h.9v.9h-.9zM53.6 141.6h.9v.9h-.9zM55.2 142.4h.9v.9h-.9zM66.5 140.6h.9v.9h-.9zM65.4 145.9h.9v.9h-.9zM57.0 146.0h.9v.9h-.9zM80.1 143.5h.9v.9h-.9zM57.8 145.1h.9v.9h-.9zM55.2 146.8h.9v.9h-.9zM71.9 140.1h.9v.9h-.9zM62.6 149.1h.9v.9h-.9zM59.3 145.9h.9v.9h-.9zM53.6 142.7h.9v.9h-.9zM60.2 153.5h.9v.9h-.9zM59.8 143.0h.9v.9h-.9zM58.6 144.6h.9v.9h-.9zM70.3 144.3h.9v.9h-.9zM83.7 142.6h.9v.9h-.9zM77.9 143.6h.9v.9h-.9zM69.0 138.2h.9v.9h-.9zM62.8 144.4h.9v.9h-.9zM60.5 136.6h.9v.9h-.9zM72.2 141.9h.9v.9h-.9zM59.7 144.1h.9v.9h-.9zM62.0 146.4h.9v.9h-.9zM51.4 142.7h.9v.9h-.9zM66.8 144.7h.9v.9h-.9zM60.1 142.8h.9v.9h-.9zM56.0 145.4h.9v.9h-.9zM74.7 138.9h.9v.9h-.9zM78.9 145.7h.9v.9h-.9zM60.1 148.1h.9v.9h-.9zM49.1 139.9h.9v.9h-.9zM51.5 144.7h.9v.9h-.9zM60.6 143.0h.9v.9h-.9zM63.8 136.2h.9v.9h-.9zM68.0 138.4h.9v.9h-.9zM57.5 143.8h.9v.9h-.9zM52.3 140.8h.9v.9h-.9zM54.4 145.8h.9v.9h-.9zM69.9 145.9h.9v.9h-.9zM54.1 142.8h.9v.9h-.9zM55.5 147.4h.9v.9h-.9zM45.3 151.9h.9v.9h-.9zM59.0 142.2h.9v.9h-.9zM67.8 148.0h.9v.9h-.9zM67.8 148.0h.9v.9h-.9zM65.9 149.0h.9v.9h-.9zM75.8 142.5h.9v.9h-.9zM77.8 143.2h.9v.9h-.9zM64.3 140.9h.9v.9h-.9zM61.7 147.8h.9v.9h-.9zM51.9 148.7h.9v.9h-.9zM67.5 145.1h.9v.9h-.9zM43.0 147.1h.9v.9h-.9zM69.8 140.7h.9v.9h-.9zM63.6 135.3h.9v.9h-.9zM70.0 141.1h.9v.9h-.9zM71.3 136.3h.9v.9h-.9zM70.5 142.7h.9v.9h-.9zM71.2 139.9h.9v.9h-.9zM59.3 153.9h.9v.9h-.9zM55.7 142.9h.9v.9h-.9zM60.8 141.0h.9v.9h-.9zM76.2 149.5h.9v.9h-.9zM56.4 138.9h.9v.9h-.9zM75.7 147.1h.9v.9h-.9zM72.4 147.8h.9v.9h-.9zM55.7 145.0h.9v.9h-.9zM50.1 141.0h.9v.9h-.9zM73.0 140.6h.9v.9h-.9zM85.7 141.7h.9v.9h-.9zM58.3 148.4h.9v.9h-.9zM81.4 143.9h.9v.9h-.9zM52.6 147.5h.9v.9h-.9zM76.8 140.8h.9v.9h-.9zM57.2 149.4h.9v.9h-.9zM64.7 140.1h.9v.9h-.9zM60.0 142.1h.9v.9h-.9zM66.9 144.5h.9v.9h-.9zM75.3 145.7h.9v.9h-.9zM49.4 148.1h.9v.9h-.9zM72.8 145.0h.9v.9h-.9zM73.5 141.0h.9v.9h-.9zM55.5 149.3h.9v.9h-.9zM52.7 137.7h.9v.9h-.9zM73.4 140.4h.9v.9h-.9zM60.3 139.6h.9v.9h-.9zM50.8 141.9h.9v.9h-.9zM60.8 146.4h.9v.9h-.9zM42.6 150.4h.9v.9h-.9zM52.2 142.0h.9v.9h-.9zM70.4 143.3h.9v.9h-.9zM50.4 153.6h.9v.9h-.9zM56.0 146.6h.9v.9h-.9zM66.7 149.6h.9v.9h-.9zM60.2 148.9h.9v.9h-.9zM57.5 149.8h.9v.9h-.9zM56.6 144.1h.9v.9h-.9zM82.2 143.2h.9v.9h-.9zM66.2 152.9h.9v.9h-.9zM67.0 140.9h.9v.9h-.9zM70.4 139.0h.9v.9h-.9zM75.4 147.6h.9v.9h-.9zM58.2 142.9h.9v.9h-.9zM65.7 144.3h.9v.9h-.9zM55.0 148.0h.9v.9h-.9zM44.4 145.6h.9v.9h-.9zM60.0 144.0h.9v.9h-.9zM66.3 139.4h.9v.9h-.9zM69.5 143.0h.9v.9h-.9zM57.1 140.2h.9v.9h-.9zM52.9 147.5h.9v.9h-.9zM54.9 146.0h.9v.9h-.9zM74.6 147.0h.9v.9h-.9zM78.7 141.3h.9v.9h-.9zM54.2 149.8h.9v.9h-.9zM67.5 148.4h.9v.9h-.9zM64.7 149.0h.9v.9h-.9zM72.4 146.1h.9v.9h-.9zM69.0 145.3h.9v.9h-.9zM66.3 145.0h.9v.9h-.9zM73.1 141.2h.9v.9h-.9zM80.4 141.8h.9v.9h-.9zM73.3 142.8h.9v.9h-.9zM62.7 152.6h.9v.9h-.9zM60.4 140.1h.9v.9h-.9zM57.0 144.2h.9v.9h-.9zM84.6 142.4h.9v.9h-.9zM72.4 139.4h.9v.9h-.9zM67.7 146.6h.9v.9h-.9zM80.8 139.4h.9v.9h-.9zM69.9 144.8h.9v.9h-.9zM54.3 145.8h.9v.9h-.9zM60.3 136.0h.9v.9h-.9zM70.0 145.8h.9v.9h-.9zM59.1 140.0h.9v.9h-.9zM78.2 143.5h.9v.9h-.9zM74.4 148.5h.9v.9h-.9zM59.5 148.3h.9v.9h-.9zM61.7 144.6h.9v.9h-.9zM63.2 144.6h.9v.9h-.9zM74.7 143.5h.9v.9h-.9zM62.4 143.7h.9v.9h-.9zM66.8 140.6h.9v.9h-.9zM59.2 145.0h.9v.9h-.9zM58.6 144.8h.9v.9h-.9zM59.3 152.9h.9v.9h-.9zM76.9 144.4h.9v.9h-.9zM64.7 152.9h.9v.9h-.9zM67.0 143.7h.9v.9h-.9zM67.0 145.3h.9v.9h-.9zM77.4 142.5h.9v.9h-.9zM83.5 138.3h.9v.9h-.9zM70.1 139.8h.9v.9h-.9zM81.1 140.8h.9v.9h-.9zM63.9 148.1h.9v.9h-.9zM75.3 138.6h.9v.9h-.9zM60.0 139.7h.9v.9h-.9zM65.3 143.9h.9v.9h-.9zM60.3 142.4h.9v.9h-.9zM59.9 142.2h.9v.9h-.9zM69.8 149.6h.9v.9h-.9zM45.6 146.6h.9v.9h-.9zM60.3 146.9h.9v.9h-.9zM54.9 145.2h.9v.9h-.9zM54.5 148.5h.9v.9h-.9zM64.9 143.8h.9v.9h-.9zM67.4 143.1h.9v.9h-.9zM49.5 148.8h.9v.9h-.9zM66.7 143.5h.9v.9h-.9zM74.0 147.8h.9v.9h-.9zM53.2 143.0h.9v.9h-.9zM79.5 147.8h.9v.9h-.9zM56.3 141.0h.9v.9h-.9zM57.7 143.5h.9v.9h-.9zM49.0 146.7h.9v.9h-.9zM51.2 141.6h.9v.9h-.9zM72.3 140.7h.9v.9h-.9zM63.7 147.0h.9v.9h-.9zM71.6 142.1h.9v.9h-.9zM64.0 141.3h.9v.9h-.9zM81.0 144.6h.9v.9h-.9zM53.5 146.0h.9v.9h-.9zM71.0 145.4h.9v.9h-.9zM82.1 147.3h.9v.9h-.9zM58.8 144.9h.9v.9h-.9zM52.0 147.2h.9v.9h-.9zM66.9 154.6h.9v.9h-.9zM63.8 136.4h.9v.9h-.9zM57.7 145.8h.9v.9h-.9zM51.6 142.9h.9v.9h-.9zM60.7 146.3h.9v.9h-.9zM62.0 141.3h.9v.9h-.9zM71.2 141.4h.9v.9h-.9zM58.5 139.9h.9v.9h-.9zM56.9 148.0h.9v.9h-.9zM48.6 146.4h.9v.9h-.9zM70.6 142.1h.9v.9h-.9zM65.7 139.9h.9v.9h-.9zM77.0 146.9h.9v.9h-.9zM65.3 137.5h.9v.9h-.9zM54.6 149.6h.9v.9h-.9zM80.4 143.3h.9v.9h-.9zM75.5 140.5h.9v.9h-.9zM62.2 144.8h.9v.9h-.9zM67.2 138.1h.9v.9h-.9zM73.6 148.3h.9v.9h-.9zM52.4 140.9h.9v.9h-.9zM67.0 141.5h.9v.9h-.9zM41.9 150.7h.9v.9h-.9zM65.2 142.5h.9v.9h-.9zM84.2 142.2h.9v.9h-.9zM56.9 145.9h.9v.9h-.9zM53.7 143.0h.9v.9h-.9zM67.4 141.9h.9v.9h-.9zM60.6 151.4h.9v.9h-.9zM72.6 146.4h.9v.9h-.9zM69.3 145.6h.9v.9h-.9zM77.8 142.5h.9v.9h-.9zM81.1 138.4h.9v.9h-.9zM60.8 139.6h.9v.9h-.9zM61.0 146.9h.9v.9h-.9zM77.4 140.0h.9v.9h-.9zM63.9 143.1h.9v.9h-.9zM56.3 141.0h.9v.9h-.9zM63.7 137.8h.9v.9h-.9zM65.1 144.4h.9v.9h-.9zM57.2 141.5h.9v.9h-.9zM51.8 153.5h.9v.9h-.9zM52.1 152.2h.9v.9h-.9zM69.5 142.3h.9v.9h-.9zM53.6 150.0h.9v.9h-.9zM79.9 138.6h.9v.9h-.9zM61.7 148.9h.9v.9h-.9zM68.3 151.7h.9v.9h-.9zM58.9 147.3h.9v.9h-.9zM53.2 154.1h.9v.9h-.9zM55.9 137.1h.9v.9h-.9zM62.7 144.1h.9v.9h-.9zM82.0 140.7h.9v.9h-.9zM64.2 146.8h.9v.9h-.9zM79.0 142.1h.9v.9h-.9zM74.2 145.1h.9v.9h-.9zM61.2 145.2h.9v.9h-.9zM63.8 141.0h.9v.9h-.9zM74.8 137.6h.9v.9h-.9zM75.6 146.6h.9v.9h-.9zM62.7 141.7h.9v.9h-.9zM62.1 146.6h.9v.9h-.9zM71.2 144.6h.9v.9h-.9zM73.1 141.1h.9v.9h-.9zM65.4 138.2h.9v.9h-.9zM71.3 144.1h.9v.9h-.9zM60.7 149.5h.9v.9h-.9zM69.1 132.9h.9v.9h-.9zM63.6 138.9h.9v.9h-.9zM75.5 152.5h.9v.9h-.9zM59.1 145.5h.9v.9h-.9zM61.8 146.2h.9v.9h-.9zM70.8 148.5h.9v.9h-.9zM55.5 151.8h.9v.9h-.9zM55.3 146.8h.9v.9h-.9zM75.4 145.7h.9v.9h-.9zM54.7 143.1h.9v.9h-.9zM59.6 144.9h.9v.9h-.9zM74.2 138.1h.9v.9h-.9zM68.8 146.2h.9v.9h-.9zM69.6 145.5h.9v.9h-.9zM78.7 144.3h.9v.9h-.9zM72.4 145.5h.9v.9h-.9zM80.0 134.9h.9v.9h-.9zM76.0 141.8h.9v.9h-.9zM60.8 141.2h.9v.9h-.9zM46.0 145.5h.9v.9h-.9zM57.7 147.3h.9v.9h-.9zM50.8 151.9h.9v.9h-.9zM66.5 143.2h.9v.9h-.9zM56.8 142.5h.9v.9h-.9zM53.0 143.9h.9v.9h-.9zM64.0 143.8h.9v.9h-.9zM50.4 145.4h.9v.9h-.9zM55.6 146.3h.9v.9h-.9zM82.1 144.4h.9v.9h-.9zM60.2 138.7h.9v.9h-.9zM49.6 140.0h.9v.9h-.9zM70.5 140.6h.9v.9h-.9zM64.3 142.1h.9v.9h-.9zM65.6 149.7h.9v.9h-.9zM57.3 144.1h.9v.9h-.9zM56.8 148.9h.9v.9h-.9zM53.6 141.6h.9v.9h-.9zM50.1 141.0h.9v.9h-.9zM69.8 153.6h.9v.9h-.9zM55.0 149.4h.9v.9h-.9zM65.8 140.0h.9v.9h-.9zM61.2 144.0h.9v.9h-.9zM58.5 152.8h.9v.9h-.9zM46.1 148.5h.9v.9h-.9zM66.8 141.9h.9v.9h-.9zM65.9 147.6h.9v.9h-.9zM65.7 145.9h.9v.9h-.9zM69.5 135.8h.9v.9h-.9zM79.3 151.2h.9v.9h-.9zM73.9 147.0h.9v.9h-.9zM50.5 145.9h.9v.9h-.9zM56.0 143.4h.9v.9h-.9zM72.8 140.2h.9v.9h-.9zM61.7 137.4h.9v.9h-.9zM62.5 145.1h.9v.9h-.9zM56.9 142.7h.9v.9h-.9zM81.3 137.4h.9v.9h-.9zM53.6 142.8h.9v.9h-.9zM76.5 150.9h.9v.9h-.9zM66.8 141.3h.9v.9h-.9zM60.5 149.1h.9v.9h-.9zM56.1 151.2h.9v.9h-.9zM77.5 142.9h.9v.9h-.9zM70.5 146.5h.9v.9h-.9zM78.2 138.4h.9v.9h-.9zM75.0 141.5h.9v.9h-.9zM56.8 145.9h.9v.9h-.9zM61.4 141.0h.9v.9h-.9zM48.3 143.1h.9v.9h-.9zM78.9 150.0h.9v.9h-.9zM70.8 148.1h.9v.9h-.9zM59.0 144.9h.9v.9h-.9zM66.1 140.0h.9v.9h-.9zM54.6 146.2h.9v.9h-.9zM60.4 140.9h.9v.9h-.9zM67.5 143.0h.9v.9h-.9zM73.7 143.1h.9v.9h-.9zM61.2 145.4h.9v.9h-.9zM62.0 142.2h.9v.9h-.9zM60.6 147.9h.9v.9h-.9zM70.8 148.5h.9v.9h-.9zM47.7 145.3h.9v.9h-.9zM60.2 145.7h.9v.9h-.9zM59.4 143.2h.9v.9h-.9zM71.5 144.1h.9v.9h-.9zM53.6 151.1h.9v.9h-.9zM73.2 141.0h.9v.9h-.9zM71.5 140.6h.9v.9h-.9zM74.6 142.2h.9v.9h-.9zM56.2 144.2h.9v.9h-.9zM56.8 146.3h.9v.9h-.9zM65.7 144.4h.9v.9h-.9zM56.8 131.3h.9v.9h-.9zM63.9 137.2h.9v.9h-.9zM66.9 148.5h.9v.9h-.9zM66.4 142.7h.9v.9h-.9zM62.2 144.2h.9v.9h-.9zM58.5 143.0h.9v.9h-.9zM55.9 150.3h.9v.9h-.9zM64.4 148.2h.9v.9h-.9zM61.7 145.1h.9v.9h-.9zM62.6 146.5h.9v.9h-.9zM72.0 144.3h.9v.9h-.9zM57.2 142.4h.9v.9h-.9zM79.6 141.2h.9v.9h-.9zM62.0 150.5h.9v.9h-.9zM74.6 145.1h.9v.9h-.9zM61.5 154.0h.9v.9h-.9zM68.0 146.1h.9v.9h-.9zM61.6 139.4h.9v.9h-.9zM51.5 147.8h.9v.9h-.9zM67.6 143.1h.9v.9h-.9zM52.1 140.6h.9v.9h-.9zM60.1 139.4h.9v.9h-.9zM73.2 147.7h.9v.9h-.9zM91.4 144.1h.9v.9h-.9zM57.9 142.0h.9v.9h-.9zM30.9 146.8h.9v.9h-.9zM62.8 148.4h.9v.9h-.9zM70.1 145.9h.9v.9h-.9zM66.4 146.7h.9v.9h-.9zM77.2 138.5h.9v.9h-.9zM58.9 139.8h.9v.9h-.9zM80.1 147.3h.9v.9h-.9zM70.5 138.9h.9v.9h-.9zM65.5 143.4h.9v.9h-.9zM64.7 143.7h.9v.9h-.9zM68.7 142.3h.9v.9h-.9zM72.3 144.3h.9v.9h-.9zM61.2 144.5h.9v.9h-.9zM60.2 148.2h.9v.9h-.9zM61.6 146.0h.9v.9h-.9zM59.5 139.4h.9v.9h-.9zM72.0 139.3h.9v.9h-.9zM70.7 145.2h.9v.9h-.9zM47.8 143.1h.9v.9h-.9zM58.7 142.1h.9v.9h-.9zM53.2 148.9h.9v.9h-.9zM61.9 146.3h.9v.9h-.9zM60.1 146.2h.9v.9h-.9zM56.8 145.4h.9v.9h-.9zM69.6 143.9h.9v.9h-.9zM59.1 141.0h.9v.9h-.9zM65.8 145.6h.9v.9h-.9zM61.1 141.9h.9v.9h-.9zM70.5 153.2h.9v.9h-.9zM61.3 146.2h.9v.9h-.9zM66.2 134.2h.9v.9h-.9zM64.8 141.6h.9v.9h-.9zM77.0 141.7h.9v.9h-.9zM56.5 144.7h.9v.9h-.9zM65.3 142.1h.9v.9h-.9zM62.8 139.4h.9v.9h-.9zM62.3 147.8h.9v.9h-.9zM83.1 144.6h.9v.9h-.9zM67.2 148.6h.9v.9h-.9zM74.6 149.5h.9v.9h-.9zM74.2 142.6h.9v.9h-.9zM66.6 144.8h.9v.9h-.9zM67.0 144.9h.9v.9h-.9zM55.4 137.5h.9v.9h-.9zM56.5 137.7h.9v.9h-.9zM64.6 144.4h.9v.9h-.9zM48.4 149.4h.9v.9h-.9zM72.3 143.7h.9v.9h-.9zM80.9 149.4h.9v.9h-.9zM53.1 150.1h.9v.9h-.9zM68.4 145.5h.9v.9h-.9zM72.5 140.5h.9v.9h-.9zM57.9 142.1h.9v.9h-.9zM56.8 145.1h.9v.9h-.9zM49.6 142.5h.9v.9h-.9zM69.5 143.5h.9v.9h-.9zM66.6 136.8h.9v.9h-.9zM56.3 143.4h.9v.9h-.9zM64.0 142.2h.9v.9h-.9zM72.8 143.0h.9v.9h-.9zM64.2 144.5h.9v.9h-.9zM70.5 141.8h.9v.9h-.9zM74.9 144.7h.9v.9h-.9zM65.5 144.5h.9v.9h-.9zM69.5 147.7h.9v.9h-.9zM73.2 144.7h.9v.9h-.9zM72.4 143.8h.9v.9h-.9zM75.9 142.7h.9v.9h-.9zM45.0 152.4h.9v.9h-.9zM64.4 139.9h.9v.9h-.9zM61.6 141.4h.9v.9h-.9zM84.2 143.6h.9v.9h-.9zM49.4 148.7h.9v.9h-.9zM61.2 152.3h.9v.9h-.9zM52.8 137.4h.9v.9h-.9zM64.4 143.1h.9v.9h-.9zM58.9 136.9h.9v.9h-.9zM69.0 150.3h.9v.9h-.9zM46.5 151.5h.9v.9h-.9zM59.8 154.2h.9v.9h-.9zM68.0 143.2h.9v.9h-.9zM74.8 145.0h.9v.9h-.9zM58.7 148.0h.9v.9h-.9zM58.2 138.4h.9v.9h-.9zM83.1 140.5h.9v.9h-.9zM58.4 146.6h.9v.9h-.9zM48.4 141.4h.9v.9h-.9zM59.0 143.2h.9v.9h-.9zM65.3 148.7h.9v.9h-.9zM59.8 147.0h.9v.9h-.9zM69.1 139.6h.9v.9h-.9zM65.7 140.6h.9v.9h-.9zM74.4 144.8h.9v.9h-.9zM63.4 139.4h.9v.9h-.9zM64.7 141.4h.9v.9h-.9zM70.6 143.1h.9v.9h-.9zM56.8 149.1h.9v.9h-.9zM70.5 141.3h.9v.9h-.9zM74.9 141.8h.9v.9h-.9zM61.1 145.4h.9v.9h-.9zM56.6 143.8h.9v.9h-.9zM63.3 150.5h.9v.9h-.9zM78.1 141.5h.9v.9h-.9zM79.3 142.2h.9v.9h-.9zM68.1 147.4h.9v.9h-.9zM68.1 153.3h.9v.9h-.9zM65.7 139.6h.9v.9h-.9zM76.2 141.2h.9v.9h-.9zM59.5 133.5h.9v.9h-.9zM74.0 146.3h.9v.9h-.9zM72.1 147.2h.9v.9h-.9zM80.1 142.1h.9v.9h-.9zM72.5 140.4h.9v.9h-.9zM61.2 149.0h.9v.9h-.9zM67.0 138.9h.9v.9h-.9zM67.3 143.3h.9v.9h-.9zM56.4 147.2h.9v.9h-.9zM59.3 139.1h.9v.9h-.9zM54.4 152.7h.9v.9h-.9zM49.7 147.4h.9v.9h-.9zM70.1 146.1h.9v.9h-.9zM52.2 144.9h.9v.9h-.9zM65.8 147.4h.9v.9h-.9zM57.2 140.9h.9v.9h-.9zM74.1 147.4h.9v.9h-.9zM67.2 141.7h.9v.9h-.9zM67.9 144.4h.9v.9h-.9zM71.3 138.6h.9v.9h-.9zM65.0 143.7h.9v.9h-.9zM53.6 146.8h.9v.9h-.9zM64.1 142.9h.9v.9h-.9zM67.0 138.6h.9v.9h-.9zM63.7 146.2h.9v.9h-.9zM67.3 148.2h.9v.9h-.9zM51.8 140.4h.9v.9h-.9zM66.5 145.9h.9v.9h-.9zM84.5 144.0h.9v.9h-.9zM56.1 148.7h.9v.9h-.9zM55.2 140.0h.9v.9h-.9zM89.0 142.3h.9v.9h-.9zM74.0 146.0h.9v.9h-.9zM88.6 142.5h.9v.9h-.9zM79.7 137.0h.9v.9h-.9zM46.3 154.4h.9v.9h-.9zM84.2 144.3h.9v.9h-.9zM67.2 144.9h.9v.9h-.9zM55.8 153.6h.9v.9h-.9zM73.2 145.8h.9v.9h-.9zM69.8 149.1h.9v.9h-.9zM71.3 147.3h.9v.9h-.9zM48.6 149.3h.9v.9h-.9zM93.1 137.7h.9v.9h-.9zM62.9 149.3h.9v.9h-.9zM77.3 145.9h.9v.9h-.9zM42.6 150.1h.9v.9h-.9zM47.5 142.6h.9v.9h-.9zM71.2 142.0h.9v.9h-.9zM77.1 158.9h.9v.9h-.9zM75.0 146.7h.9v.9h-.9zM51.5 142.9h.9v.9h-.9zM49.3 143.8h.9v.9h-.9zM48.8 143.2h.9v.9h-.9zM60.5 139.8h.9v.9h-.9zM43.9 140.3h.9v.9h-.9zM70.2 143.9h.9v.9h-.9zM78.6 147.9h.9v.9h-.9zM59.9 148.5h.9v.9h-.9zM46.2 158.8h.9v.9h-.9zM79.9 141.1h.9v.9h-.9zM48.6 148.6h.9v.9h-.9zM38.3 144.1h.9v.9h-.9zM74.1 143.5h.9v.9h-.9zM58.1 150.2h.9v.9h-.9zM50.2 147.9h.9v.9h-.9zM56.7 141.1h.9v.9h-.9zM69.5 138.6h.9v.9h-.9zM89.2 137.9h.9v.9h-.9zM90.0 135.2h.9v.9h-.9zM71.3 137.3h.9v.9h-.9zM46.1 147.8h.9v.9h-.9zM72.2 136.8h.9v.9h-.9zM79.4 138.2h.9v.9h-.9zM66.0 146.2h.9v.9h-.9zM70.7 134.3h.9v.9h-.9zM86.2 144.3h.9v.9h-.9zM57.5 140.1h.9v.9h-.9zM40.2 140.8h.9v.9h-.9zM71.1 141.7h.9v.9h-.9zM48.4 144.0h.9v.9h-.9zM84.8 139.9h.9v.9h-.9zM57.1 152.5h.9v.9h-.9zM70.3 143.9h.9v.9h-.9zM54.7 137.8h.9v.9h-.9zM47.9 144.3h.9v.9h-.9zM61.3 146.7h.9v.9h-.9zM71.6 144.6h.9v.9h-.9zM66.3 139.0h.9v.9h-.9zM34.6 145.9h.9v.9h-.9zM50.7 143.0h.9v.9h-.9zM59.4 138.7h.9v.9h-.9zM49.0 146.1h.9v.9h-.9zM65.1 141.0h.9v.9h-.9zM70.6 142.4h.9v.9h-.9zM50.3 146.6h.9v.9h-.9zM88.9 137.5h.9v.9h-.9zM80.7 149.3h.9v.9h-.9zM83.6 137.5h.9v.9h-.9zM91.2 141.3h.9v.9h-.9zM60.4 143.8h.9v.9h-.9zM72.1 143.6h.9v.9h-.9zM62.5 151.3h.9v.9h-.9zM53.5 140.6h.9v.9h-.9zM75.2 146.6h.9v.9h-.9zM78.0 137.0h.9v.9h-.9zM78.9 144.9h.9v.9h-.9zM86.8 134.8h.9v.9h-.9zM66.7 142.7h.9v.9h-.9zM42.1 143.9h.9v.9h-.9zM78.8 140.0h.9v.9h-.9zM54.9 150.3h.9v.9h-.9zM78.0 147.6h.9v.9h-.9zM53.3 145.7h.9v.9h-.9zM77.4 139.2h.9v.9h-.9zM54.5 150.1h.9v.9h-.9zM84.2 135.7h.9v.9h-.9zM50.3 145.7h.9v.9h-.9zM72.2 142.6h.9v.9h-.9zM54.7 146.6h.9v.9h-.9zM51.0 146.1h.9v.9h-.9zM57.3 159.3h.9v.9h-.9zM74.4 138.7h.9v.9h-.9zM50.3 144.2h.9v.9h-.9zM41.3 143.9h.9v.9h-.9zM54.7 150.4h.9v.9h-.9zM57.7 141.3h.9v.9h-.9zM45.1 141.1h.9v.9h-.9zM63.0 143.5h.9v.9h-.9zM78.8 139.2h.9v.9h-.9zM78.4 143.8h.9v.9h-.9zM62.5 134.3h.9v.9h-.9zM47.2 150.7h.9v.9h-.9zM83.0 142.9h.9v.9h-.9zM74.0 141.0h.9v.9h-.9zM58.5 141.8h.9v.9h-.9zM77.4 144.4h.9v.9h-.9zM60.6 143.3h.9v.9h-.9zM71.7 145.1h.9v.9h-.9zM54.0 154.8h.9v.9h-.9zM67.5 144.1h.9v.9h-.9zM84.6 146.9h.9v.9h-.9zM63.2 147.4h.9v.9h-.9zM49.1 143.3h.9v.9h-.9zM34.4 155.0h.9v.9h-.9zM38.9 151.5h.9v.9h-.9zM52.1 141.1h.9v.9h-.9zM61.6 146.2h.9v.9h-.9zM73.5 152.3h.9v.9h-.9zM69.5 148.3h.9v.9h-.9zM56.4 149.3h.9v.9h-.9zM60.7 142.3h.9v.9h-.9zM62.1 144.4h.9v.9h-.9zM60.7 147.3h.9v.9h-.9zM53.7 141.6h.9v.9h-.9zM48.4 136.8h.9v.9h-.9zM53.5 155.0h.9v.9h-.9zM49.6 136.9h.9v.9h-.9zM37.9 157.2h.9v.9h-.9zM46.4 145.7h.9v.9h-.9zM56.5 140.3h.9v.9h-.9zM47.7 140.3h.9v.9h-.9zM59.6 150.9h.9v.9h-.9zM42.5 145.4h.9v.9h-.9zM59.8 137.3h.9v.9h-.9zM42.1 149.6h.9v.9h-.9zM35.1 148.3h.9v.9h-.9zM48.7 142.8h.9v.9h-.9zM62.0 140.7h.9v.9h-.9zM45.1 143.1h.9v.9h-.9zM45.3 146.9h.9v.9h-.9zM47.3 143.7h.9v.9h-.9zM53.5 139.3h.9v.9h-.9zM53.8 151.4h.9v.9h-.9zM59.1 144.0h.9v.9h-.9zM56.6 145.4h.9v.9h-.9zM36.9 153.8h.9v.9h-.9zM47.5 142.8h.9v.9h-.9zM38.3 149.9h.9v.9h-.9zM60.5 151.9h.9v.9h-.9zM56.4 143.9h.9v.9h-.9zM53.7 134.5h.9v.9h-.9zM46.6 139.9h.9v.9h-.9zM52.6 141.8h.9v.9h-.9zM50.1 146.1h.9v.9h-.9zM62.4 135.0h.9v.9h-.9zM61.2 136.3h.9v.9h-.9zM58.5 147.4h.9v.9h-.9zM65.3 156.2h.9v.9h-.9zM54.4 149.3h.9v.9h-.9zM61.1 143.8h.9v.9h-.9zM46.5 153.4h.9v.9h-.9zM40.1 154.0h.9v.9h-.9zM55.0 151.4h.9v.9h-.9zM54.1 138.6h.9v.9h-.9zM43.2 158.0h.9v.9h-.9zM58.1 137.1h.9v.9h-.9zM57.1 143.4h.9v.9h-.9zM33.7 150.3h.9v.9h-.9zM62.9 143.2h.9v.9h-.9zM59.1 148.7h.9v.9h-.9zM47.3 139.7h.9v.9h-.9zM53.5 145.3h.9v.9h-.9zM57.8 136.9h.9v.9h-.9zM56.4 157.3h.9v.9h-.9zM42.6 137.7h.9v.9h-.9zM59.2 148.6h.9v.9h-.9zM54.3 139.4h.9v.9h-.9zM44.4 142.7h.9v.9h-.9zM41.9 144.1h.9v.9h-.9zM62.5 148.9h.9v.9h-.9zM52.1 146.0h.9v.9h-.9zM46.3 147.5h.9v.9h-.9zM45.8 138.9h.9v.9h-.9zM34.7 153.1h.9v.9h-.9zM37.3 146.5h.9v.9h-.9zM61.7 142.0h.9v.9h-.9zM56.5 153.7h.9v.9h-.9zM64.2 148.7h.9v.9h-.9zM62.2 143.7h.9v.9h-.9zM53.5 146.9h.9v.9h-.9zM51.1 143.9h.9v.9h-.9zM62.5 140.8h.9v.9h-.9z" fill="#000" fill-opacity="0.32"/>
</g>
<path d="M65.50 106.50L65.50 180.10" stroke="#8c9af3" stroke-width="0.9"/>
<path d="M28.50 157.30L109.00 157.30" stroke="#8c9af3" stroke-width="0.9"/>
<path d="M26.70 115.33L28.00 115.33" stroke="#777" stroke-width="0.6"/>
<path d="M26.70 124.65L28.00 124.65" stroke="#777" stroke-width="0.6"/>
<path d="M26.70 133.97L28.00 133.97" stroke="#777" stroke-width="0.6"/>
<path d="M26.70 143.30L28.00 143.30" stroke="#777" stroke-width="0.6"/>
<path d="M26.70 152.62L28.00 152.62" stroke="#777" stroke-width="0.6"/>
<path d="M26.70 161.95L28.00 161.95" stroke="#777" stroke-width="0.6"/>
<path d="M26.70 171.27L28.00 171.27" stroke="#777" stroke-width="0.6"/>
<path d="M33.82 180.60L33.82 181.80" stroke="#777" stroke-width="0.6"/>
<path d="M39.64 180.60L39.64 181.80" stroke="#777" stroke-width="0.6"/>
<path d="M45.46 180.60L45.46 181.80" stroke="#777" stroke-width="0.6"/>
<path d="M51.29 180.60L51.29 181.80" stroke="#777" stroke-width="0.6"/>
<path d="M57.11 180.60L57.11 181.80" stroke="#777" stroke-width="0.6"/>
<path d="M62.93 180.60L62.93 181.80" stroke="#777" stroke-width="0.6"/>
<path d="M68.75 180.60L68.75 181.80" stroke="#777" stroke-width="0.6"/>
<path d="M74.57 180.60L74.57 181.80" stroke="#777" stroke-width="0.6"/>
<path d="M80.39 180.60L80.39 181.80" stroke="#777" stroke-width="0.6"/>
<path d="M86.21 180.60L86.21 181.80" stroke="#777" stroke-width="0.6"/>
<path d="M92.04 180.60L92.04 181.80" stroke="#777" stroke-width="0.6"/>
<path d="M97.86 180.60L97.86 181.80" stroke="#777" stroke-width="0.6"/>
<path d="M103.68 180.60L103.68 181.80" stroke="#777" stroke-width="0.6"/>
<circle cx="30.6" cy="178.0" r="0.9" fill="none" stroke="#777" stroke-width="0.5"/>
<circle cx="106.9" cy="178.0" r="0.9" fill="none" stroke="#777" stroke-width="0.5"/>
<text x="34.89" y="118.44" font-size="8.8" textLength="19.96" lengthAdjust="spacingAndGlyphs" stroke="#000" stroke-width="0.15">56%</text>
<text x="82.35" y="118.67" font-size="8.8" textLength="19.72" lengthAdjust="spacingAndGlyphs" stroke="#000" stroke-width="0.15">44%</text>
<text x="69.07" y="172.58" font-size="8.8" textLength="34.2" lengthAdjust="spacingAndGlyphs" stroke="#000" stroke-width="0.15">+25HC</text>
<path d="M21.40 184.40L21.40 34.00" stroke="#000" stroke-width="1.9"/>
<path d="M21.4 29.3 L18.6 35.2 L24.2 35.2 Z" fill="#000"/>
<path d="M20.45 184.40L108.00 184.40" stroke="#000" stroke-width="1.9"/>
<path d="M113.4 184.4 L107.5 181.6 L107.5 187.2 Z" fill="#000"/>
<text x="15.73" y="173.05" font-size="7.6" text-anchor="middle" font-weight="bold" transform="rotate(-90 15.73 173.05)" textLength="16.38" lengthAdjust="spacingAndGlyphs">NKp46</text>
<text x="22.0" y="195.83" font-size="9" textLength="22.38" lengthAdjust="spacingAndGlyphs" stroke="#000" stroke-width="0.15">IFN-γ</text>
<text x="49.75" y="236.66" font-size="9.3" font-weight="bold" textLength="30.19" lengthAdjust="spacingAndGlyphs">Mouse</text>
<rect x="27.3" y="242.5" width="80.90" height="73.50" fill="#fff" stroke="#222" stroke-width="1.0"/>
<g filter="url(#soft)">
<ellipse cx="67.6" cy="284.3" rx="24.0" ry="10.9" fill="url(#cgd)" fill-opacity="1.0" filter="url(#sp3)" transform="rotate(-2 67.6 284.3)"/>
<path d="M61.2 283.9h.9v.9h-.9zM66.1 279.6h.9v.9h-.9zM82.6 283.2h.9v.9h-.9zM54.5 289.3h.9v.9h-.9zM60.5 286.6h.9v.9h-.9zM67.5 285.3h.9v.9h-.9zM69.2 281.9h.9v.9h-.9zM68.3 292.6h.9v.9h-.9zM46.1 285.3h.9v.9h-.9zM71.6 279.9h.9v.9h-.9zM54.8 293.6h.9v.9h-.9zM64.3 292.9h.9v.9h-.9zM72.8 284.4h.9v.9h-.9zM72.3 286.7h.9v.9h-.9zM79.0 285.7h.9v.9h-.9zM69.0 285.0h.9v.9h-.9zM80.7 287.2h.9v.9h-.9zM57.9 282.0h.9v.9h-.9zM70.7 281.6h.9v.9h-.9zM63.9 280.5h.9v.9h-.9zM65.2 286.1h.9v.9h-.9zM77.1 284.0h.9v.9h-.9zM87.5 283.3h.9v.9h-.9zM98.4 287.3h.9v.9h-.9zM72.3 282.1h.9v.9h-.9zM40.5 284.6h.9v.9h-.9zM69.6 292.1h.9v.9h-.9zM54.6 292.5h.9v.9h-.9zM65.3 287.3h.9v.9h-.9zM43.3 285.7h.9v.9h-.9zM64.4 287.2h.9v.9h-.9zM68.3 279.6h.9v.9h-.9zM76.8 286.8h.9v.9h-.9zM73.5 288.2h.9v.9h-.9zM78.2 283.8h.9v.9h-.9zM54.4 279.1h.9v.9h-.9zM80.7 286.7h.9v.9h-.9zM68.5 282.5h.9v.9h-.9zM67.9 284.4h.9v.9h-.9zM64.3 281.6h.9v.9h-.9zM88.4 284.5h.9v.9h-.9zM61.6 279.2h.9v.9h-.9zM60.7 287.5h.9v.9h-.9zM74.8 283.2h.9v.9h-.9zM68.1 283.0h.9v.9h-.9zM57.2 290.0h.9v.9h-.9zM71.5 294.3h.9v.9h-.9zM60.3 284.0h.9v.9h-.9zM76.0 283.0h.9v.9h-.9zM54.2 280.9h.9v.9h-.9zM68.6 285.7h.9v.9h-.9zM66.8 288.4h.9v.9h-.9zM77.2 285.3h.9v.9h-.9zM67.8 283.3h.9v.9h-.9zM73.0 287.9h.9v.9h-.9zM68.2 286.1h.9v.9h-.9zM64.3 278.7h.9v.9h-.9zM58.1 287.8h.9v.9h-.9zM72.1 290.6h.9v.9h-.9zM68.3 287.8h.9v.9h-.9zM80.4 287.9h.9v.9h-.9zM61.7 283.8h.9v.9h-.9zM68.7 280.2h.9v.9h-.9zM72.3 288.3h.9v.9h-.9zM63.3 292.5h.9v.9h-.9zM64.8 283.6h.9v.9h-.9zM65.2 281.5h.9v.9h-.9zM71.6 284.2h.9v.9h-.9zM83.6 286.2h.9v.9h-.9zM72.7 283.2h.9v.9h-.9zM54.0 284.4h.9v.9h-.9zM59.6 288.5h.9v.9h-.9zM67.5 291.1h.9v.9h-.9zM74.8 287.5h.9v.9h-.9zM69.8 285.1h.9v.9h-.9zM74.0 287.8h.9v.9h-.9zM60.9 286.5h.9v.9h-.9zM92.7 283.1h.9v.9h-.9zM65.0 281.6h.9v.9h-.9zM53.9 289.6h.9v.9h-.9zM68.2 285.5h.9v.9h-.9zM85.7 293.9h.9v.9h-.9zM59.2 288.9h.9v.9h-.9zM73.6 285.7h.9v.9h-.9zM72.2 284.1h.9v.9h-.9zM83.0 286.3h.9v.9h-.9zM71.1 289.3h.9v.9h-.9zM76.3 285.9h.9v.9h-.9zM71.0 291.4h.9v.9h-.9zM72.5 283.8h.9v.9h-.9zM59.4 283.2h.9v.9h-.9zM57.6 285.1h.9v.9h-.9zM69.8 275.9h.9v.9h-.9zM67.9 287.0h.9v.9h-.9zM69.1 280.4h.9v.9h-.9zM79.7 281.0h.9v.9h-.9zM55.7 280.3h.9v.9h-.9zM67.6 288.3h.9v.9h-.9zM78.8 284.8h.9v.9h-.9zM56.1 282.0h.9v.9h-.9zM59.0 283.9h.9v.9h-.9zM50.6 285.4h.9v.9h-.9zM73.8 283.5h.9v.9h-.9zM71.9 280.3h.9v.9h-.9zM53.6 282.2h.9v.9h-.9zM78.9 288.1h.9v.9h-.9zM63.4 289.4h.9v.9h-.9zM64.7 290.6h.9v.9h-.9zM72.2 282.3h.9v.9h-.9zM75.1 280.9h.9v.9h-.9zM58.4 278.7h.9v.9h-.9zM70.1 284.0h.9v.9h-.9zM66.8 282.7h.9v.9h-.9zM81.3 282.1h.9v.9h-.9zM60.8 289.6h.9v.9h-.9zM81.3 285.2h.9v.9h-.9zM50.8 282.4h.9v.9h-.9zM73.5 284.2h.9v.9h-.9zM82.3 278.2h.9v.9h-.9zM74.0 281.5h.9v.9h-.9zM80.3 283.6h.9v.9h-.9zM77.4 281.3h.9v.9h-.9zM53.9 280.2h.9v.9h-.9zM61.6 280.3h.9v.9h-.9zM79.3 289.4h.9v.9h-.9zM70.1 280.0h.9v.9h-.9zM66.4 281.5h.9v.9h-.9zM81.6 285.1h.9v.9h-.9zM72.2 282.5h.9v.9h-.9zM48.2 281.8h.9v.9h-.9zM56.9 286.2h.9v.9h-.9zM68.4 281.0h.9v.9h-.9zM64.1 290.8h.9v.9h-.9zM58.3 280.9h.9v.9h-.9zM65.3 281.5h.9v.9h-.9zM63.6 286.6h.9v.9h-.9zM84.0 276.5h.9v.9h-.9zM67.4 284.5h.9v.9h-.9zM66.8 283.6h.9v.9h-.9zM64.5 288.5h.9v.9h-.9zM63.1 283.9h.9v.9h-.9zM67.6 284.7h.9v.9h-.9zM66.1 288.4h.9v.9h-.9zM67.5 285.0h.9v.9h-.9zM67.0 280.2h.9v.9h-.9zM59.5 280.3h.9v.9h-.9zM69.3 281.3h.9v.9h-.9zM57.5 285.6h.9v.9h-.9zM72.4 276.9h.9v.9h-.9zM83.8 283.9h.9v.9h-.9zM66.7 288.7h.9v.9h-.9zM68.2 281.8h.9v.9h-.9zM88.5 279.2h.9v.9h-.9zM66.8 287.8h.9v.9h-.9zM57.3 284.2h.9v.9h-.9zM71.7 294.0h.9v.9h-.9zM59.0 284.4h.9v.9h-.9zM73.9 284.4h.9v.9h-.9zM56.1 286.4h.9v.9h-.9zM68.7 286.1h.9v.9h-.9zM78.6 288.1h.9v.9h-.9zM71.6 285.4h.9v.9h-.9zM57.0 284.1h.9v.9h-.9zM69.7 282.6h.9v.9h-.9zM68.4 280.9h.9v.9h-.9zM82.6 292.6h.9v.9h-.9zM63.9 286.1h.9v.9h-.9zM65.5 289.5h.9v.9h-.9zM71.8 284.5h.9v.9h-.9zM65.5 284.9h.9v.9h-.9zM58.1 287.4h.9v.9h-.9zM60.8 286.7h.9v.9h-.9zM69.0 288.7h.9v.9h-.9zM67.6 288.5h.9v.9h-.9zM58.8 287.1h.9v.9h-.9zM65.5 285.2h.9v.9h-.9zM68.4 288.1h.9v.9h-.9zM48.3 286.3h.9v.9h-.9zM53.4 289.7h.9v.9h-.9zM48.5 280.9h.9v.9h-.9zM51.8 291.5h.9v.9h-.9zM55.2 285.2h.9v.9h-.9zM62.2 277.1h.9v.9h-.9zM64.5 287.1h.9v.9h-.9zM66.0 288.2h.9v.9h-.9zM64.1 284.4h.9v.9h-.9zM64.0 285.8h.9v.9h-.9zM85.9 285.1h.9v.9h-.9zM69.4 281.7h.9v.9h-.9zM60.6 290.5h.9v.9h-.9zM56.8 280.9h.9v.9h-.9zM66.6 282.6h.9v.9h-.9zM86.0 274.0h.9v.9h-.9zM71.2 287.1h.9v.9h-.9zM56.8 282.0h.9v.9h-.9zM72.0 290.8h.9v.9h-.9zM58.5 278.2h.9v.9h-.9zM77.1 290.2h.9v.9h-.9zM64.1 275.4h.9v.9h-.9zM81.5 283.0h.9v.9h-.9zM78.4 283.7h.9v.9h-.9zM63.9 282.6h.9v.9h-.9zM81.9 289.7h.9v.9h-.9zM47.0 281.2h.9v.9h-.9zM84.6 282.2h.9v.9h-.9zM54.5 284.8h.9v.9h-.9zM66.5 283.9h.9v.9h-.9zM63.0 283.2h.9v.9h-.9zM63.3 285.8h.9v.9h-.9zM59.8 283.4h.9v.9h-.9zM66.4 289.7h.9v.9h-.9zM71.2 283.7h.9v.9h-.9zM72.8 285.8h.9v.9h-.9zM78.1 286.0h.9v.9h-.9zM85.0 289.2h.9v.9h-.9zM67.1 282.6h.9v.9h-.9zM76.1 286.1h.9v.9h-.9zM66.5 278.3h.9v.9h-.9zM50.1 286.3h.9v.9h-.9zM75.1 287.3h.9v.9h-.9zM55.4 289.0h.9v.9h-.9zM62.5 286.1h.9v.9h-.9zM71.5 280.9h.9v.9h-.9zM61.6 276.0h.9v.9h-.9zM58.5 277.3h.9v.9h-.9zM71.8 284.4h.9v.9h-.9zM76.4 285.4h.9v.9h-.9zM61.6 285.9h.9v.9h-.9zM63.9 286.9h.9v.9h-.9zM70.5 280.2h.9v.9h-.9zM67.6 284.5h.9v.9h-.9zM64.8 288.1h.9v.9h-.9zM84.0 282.2h.9v.9h-.9zM63.9 275.3h.9v.9h-.9zM66.3 282.6h.9v.9h-.9zM46.9 286.2h.9v.9h-.9zM73.2 281.1h.9v.9h-.9zM63.9 280.5h.9v.9h-.9zM74.7 277.9h.9v.9h-.9zM64.9 292.4h.9v.9h-.9zM68.2 286.2h.9v.9h-.9zM66.0 279.6h.9v.9h-.9zM67.3 286.0h.9v.9h-.9zM57.8 286.0h.9v.9h-.9zM79.7 288.2h.9v.9h-.9zM52.3 280.9h.9v.9h-.9zM52.3 289.2h.9v.9h-.9zM73.6 287.0h.9v.9h-.9zM59.0 279.8h.9v.9h-.9zM68.4 284.7h.9v.9h-.9zM59.4 285.2h.9v.9h-.9zM73.8 285.0h.9v.9h-.9zM57.3 276.0h.9v.9h-.9zM65.1 285.1h.9v.9h-.9zM65.0 282.6h.9v.9h-.9zM61.1 287.4h.9v.9h-.9zM67.1 284.8h.9v.9h-.9zM58.2 282.1h.9v.9h-.9zM69.0 280.1h.9v.9h-.9zM55.5 283.4h.9v.9h-.9zM79.1 284.7h.9v.9h-.9zM81.6 283.3h.9v.9h-.9zM64.4 278.7h.9v.9h-.9zM62.3 290.3h.9v.9h-.9zM70.8 287.2h.9v.9h-.9zM74.4 284.0h.9v.9h-.9zM65.7 284.9h.9v.9h-.9zM74.1 285.9h.9v.9h-.9zM72.3 284.8h.9v.9h-.9zM60.2 283.5h.9v.9h-.9zM58.7 288.7h.9v.9h-.9zM47.4 284.1h.9v.9h-.9zM90.5 282.1h.9v.9h-.9zM56.7 284.6h.9v.9h-.9zM79.9 283.2h.9v.9h-.9zM73.5 284.5h.9v.9h-.9zM64.5 297.3h.9v.9h-.9zM68.2 282.1h.9v.9h-.9zM63.0 286.0h.9v.9h-.9zM71.6 287.3h.9v.9h-.9zM68.8 278.4h.9v.9h-.9zM72.7 282.9h.9v.9h-.9zM64.6 278.3h.9v.9h-.9zM62.0 281.5h.9v.9h-.9zM67.0 278.4h.9v.9h-.9zM68.1 284.8h.9v.9h-.9zM56.8 282.1h.9v.9h-.9zM59.5 288.3h.9v.9h-.9zM43.3 283.7h.9v.9h-.9zM51.6 283.1h.9v.9h-.9zM75.6 281.4h.9v.9h-.9zM68.8 280.8h.9v.9h-.9zM86.3 287.4h.9v.9h-.9zM78.2 278.5h.9v.9h-.9zM57.2 289.1h.9v.9h-.9zM65.7 283.3h.9v.9h-.9zM70.6 279.1h.9v.9h-.9zM75.0 284.1h.9v.9h-.9zM72.1 281.4h.9v.9h-.9zM72.4 281.3h.9v.9h-.9zM76.9 288.6h.9v.9h-.9zM76.4 286.1h.9v.9h-.9zM73.3 273.1h.9v.9h-.9zM75.6 282.9h.9v.9h-.9zM68.5 283.1h.9v.9h-.9zM54.2 282.6h.9v.9h-.9zM74.1 289.9h.9v.9h-.9zM61.5 280.8h.9v.9h-.9zM81.4 280.2h.9v.9h-.9zM87.5 283.8h.9v.9h-.9zM59.3 288.6h.9v.9h-.9zM83.6 277.9h.9v.9h-.9zM82.5 282.6h.9v.9h-.9zM81.8 282.3h.9v.9h-.9zM52.5 286.9h.9v.9h-.9zM76.8 292.5h.9v.9h-.9zM84.2 286.6h.9v.9h-.9zM65.2 282.3h.9v.9h-.9zM64.7 281.0h.9v.9h-.9zM64.6 274.0h.9v.9h-.9zM69.3 284.1h.9v.9h-.9zM92.3 286.5h.9v.9h-.9zM63.1 286.8h.9v.9h-.9zM55.8 282.3h.9v.9h-.9zM49.9 290.8h.9v.9h-.9zM73.1 279.3h.9v.9h-.9zM67.2 288.2h.9v.9h-.9zM72.4 285.7h.9v.9h-.9zM59.3 282.0h.9v.9h-.9zM68.6 288.0h.9v.9h-.9zM59.5 280.0h.9v.9h-.9zM78.4 280.1h.9v.9h-.9zM78.0 284.9h.9v.9h-.9zM76.3 291.1h.9v.9h-.9zM74.3 287.2h.9v.9h-.9zM58.7 281.8h.9v.9h-.9zM74.0 290.3h.9v.9h-.9zM81.3 293.3h.9v.9h-.9zM70.6 285.0h.9v.9h-.9zM77.3 284.0h.9v.9h-.9zM66.9 280.1h.9v.9h-.9zM77.0 279.6h.9v.9h-.9zM72.3 278.3h.9v.9h-.9zM78.0 279.7h.9v.9h-.9zM75.5 277.5h.9v.9h-.9zM63.5 289.3h.9v.9h-.9zM59.9 284.8h.9v.9h-.9zM62.7 275.0h.9v.9h-.9zM70.6 286.0h.9v.9h-.9zM57.1 287.0h.9v.9h-.9zM59.8 280.5h.9v.9h-.9zM67.6 281.5h.9v.9h-.9zM89.4 277.2h.9v.9h-.9zM74.8 288.1h.9v.9h-.9zM48.4 277.9h.9v.9h-.9zM72.9 282.1h.9v.9h-.9zM71.4 288.8h.9v.9h-.9zM63.9 280.1h.9v.9h-.9zM41.4 286.0h.9v.9h-.9zM58.7 285.9h.9v.9h-.9zM69.6 278.6h.9v.9h-.9zM84.3 288.1h.9v.9h-.9zM75.6 279.2h.9v.9h-.9zM63.6 282.2h.9v.9h-.9zM63.5 279.9h.9v.9h-.9zM71.8 285.1h.9v.9h-.9zM71.0 282.1h.9v.9h-.9zM80.0 284.6h.9v.9h-.9zM41.2 282.6h.9v.9h-.9zM67.2 288.3h.9v.9h-.9zM64.7 283.4h.9v.9h-.9zM61.3 287.2h.9v.9h-.9zM63.2 282.0h.9v.9h-.9zM60.6 286.8h.9v.9h-.9zM62.2 277.6h.9v.9h-.9zM73.5 281.2h.9v.9h-.9zM71.1 285.7h.9v.9h-.9zM79.3 288.2h.9v.9h-.9zM62.1 283.8h.9v.9h-.9zM55.5 291.6h.9v.9h-.9zM72.0 289.8h.9v.9h-.9zM64.2 276.1h.9v.9h-.9zM82.3 284.2h.9v.9h-.9zM68.9 284.5h.9v.9h-.9zM73.9 286.3h.9v.9h-.9zM52.5 289.3h.9v.9h-.9zM62.5 282.6h.9v.9h-.9zM84.3 287.5h.9v.9h-.9zM64.1 276.8h.9v.9h-.9zM69.2 286.4h.9v.9h-.9zM66.6 279.2h.9v.9h-.9zM59.8 279.4h.9v.9h-.9zM69.8 287.6h.9v.9h-.9zM77.3 281.0h.9v.9h-.9zM69.9 286.5h.9v.9h-.9zM62.7 283.9h.9v.9h-.9zM88.0 284.4h.9v.9h-.9zM76.0 282.2h.9v.9h-.9zM67.8 277.3h.9v.9h-.9zM67.5 289.2h.9v.9h-.9zM87.9 288.5h.9v.9h-.9zM74.2 284.3h.9v.9h-.9zM61.8 283.8h.9v.9h-.9zM73.4 280.9h.9v.9h-.9zM76.4 280.0h.9v.9h-.9zM50.4 280.8h.9v.9h-.9zM51.4 279.3h.9v.9h-.9zM78.4 283.1h.9v.9h-.9zM69.9 288.9h.9v.9h-.9zM79.6 281.8h.9v.9h-.9zM80.4 285.4h.9v.9h-.9zM67.7 286.1h.9v.9h-.9zM53.8 281.6h.9v.9h-.9zM66.6 286.8h.9v.9h-.9zM64.0 283.9h.9v.9h-.9zM77.1 289.7h.9v.9h-.9zM75.1 289.2h.9v.9h-.9zM63.7 283.2h.9v.9h-.9zM70.6 283.0h.9v.9h-.9zM63.0 291.2h.9v.9h-.9zM65.5 280.4h.9v.9h-.9zM72.5 291.6h.9v.9h-.9zM68.6 289.3h.9v.9h-.9zM63.3 282.4h.9v.9h-.9zM61.0 283.9h.9v.9h-.9zM85.1 279.0h.9v.9h-.9zM83.2 279.6h.9v.9h-.9zM65.5 287.8h.9v.9h-.9zM73.7 285.2h.9v.9h-.9zM51.8 286.3h.9v.9h-.9zM58.2 295.1h.9v.9h-.9zM65.6 285.1h.9v.9h-.9zM56.5 282.7h.9v.9h-.9zM55.4 288.7h.9v.9h-.9zM65.2 286.7h.9v.9h-.9zM61.0 282.5h.9v.9h-.9zM79.8 279.9h.9v.9h-.9zM50.4 286.6h.9v.9h-.9zM56.6 282.9h.9v.9h-.9zM76.2 280.7h.9v.9h-.9zM75.9 281.2h.9v.9h-.9zM82.1 289.2h.9v.9h-.9zM63.0 283.6h.9v.9h-.9zM59.6 285.4h.9v.9h-.9zM78.4 278.0h.9v.9h-.9zM76.2 278.6h.9v.9h-.9zM59.1 277.3h.9v.9h-.9zM87.8 283.8h.9v.9h-.9zM69.9 281.5h.9v.9h-.9zM77.5 275.4h.9v.9h-.9zM68.2 293.3h.9v.9h-.9zM63.9 284.5h.9v.9h-.9zM73.9 280.8h.9v.9h-.9zM68.0 288.2h.9v.9h-.9zM69.5 285.7h.9v.9h-.9zM64.3 285.7h.9v.9h-.9zM68.3 290.2h.9v.9h-.9zM74.5 283.1h.9v.9h-.9zM44.2 288.0h.9v.9h-.9zM74.7 280.3h.9v.9h-.9zM48.3 280.3h.9v.9h-.9zM76.3 279.6h.9v.9h-.9zM63.2 285.4h.9v.9h-.9zM79.3 283.8h.9v.9h-.9zM66.6 282.1h.9v.9h-.9zM83.4 288.1h.9v.9h-.9zM66.5 278.6h.9v.9h-.9zM60.1 286.9h.9v.9h-.9zM60.8 288.2h.9v.9h-.9zM71.1 285.4h.9v.9h-.9zM73.9 286.1h.9v.9h-.9zM59.3 283.3h.9v.9h-.9zM89.9 278.6h.9v.9h-.9zM63.2 288.8h.9v.9h-.9zM66.0 281.0h.9v.9h-.9zM55.0 286.9h.9v.9h-.9zM77.6 289.7h.9v.9h-.9zM68.3 288.5h.9v.9h-.9zM57.7 285.3h.9v.9h-.9zM61.1 285.2h.9v.9h-.9zM75.0 288.4h.9v.9h-.9zM58.3 289.8h.9v.9h-.9zM62.9 280.3h.9v.9h-.9zM65.8 278.4h.9v.9h-.9zM67.7 285.5h.9v.9h-.9zM65.8 286.6h.9v.9h-.9zM64.6 284.4h.9v.9h-.9zM53.8 285.0h.9v.9h-.9zM59.4 282.8h.9v.9h-.9zM66.7 285.1h.9v.9h-.9zM51.6 278.5h.9v.9h-.9zM64.8 286.3h.9v.9h-.9zM71.2 287.8h.9v.9h-.9zM80.2 285.9h.9v.9h-.9zM67.3 280.1h.9v.9h-.9zM58.5 282.7h.9v.9h-.9zM70.2 285.1h.9v.9h-.9zM67.6 283.7h.9v.9h-.9zM73.7 284.9h.9v.9h-.9zM70.5 285.5h.9v.9h-.9zM62.2 280.3h.9v.9h-.9zM72.4 285.8h.9v.9h-.9zM65.4 282.7h.9v.9h-.9zM89.4 280.4h.9v.9h-.9zM65.6 285.5h.9v.9h-.9zM56.5 285.2h.9v.9h-.9zM85.0 287.5h.9v.9h-.9zM73.7 286.5h.9v.9h-.9zM68.8 288.2h.9v.9h-.9zM66.0 282.6h.9v.9h-.9zM68.7 288.0h.9v.9h-.9zM70.9 286.9h.9v.9h-.9zM48.4 289.8h.9v.9h-.9zM90.2 289.0h.9v.9h-.9zM64.4 280.9h.9v.9h-.9zM70.1 280.2h.9v.9h-.9zM74.5 281.9h.9v.9h-.9zM77.0 289.5h.9v.9h-.9zM48.1 286.2h.9v.9h-.9zM60.7 278.8h.9v.9h-.9zM61.6 283.6h.9v.9h-.9zM77.3 277.8h.9v.9h-.9zM78.0 292.2h.9v.9h-.9zM73.4 286.3h.9v.9h-.9zM67.3 279.5h.9v.9h-.9zM72.8 285.7h.9v.9h-.9zM75.0 294.5h.9v.9h-.9zM74.6 285.8h.9v.9h-.9zM82.4 278.3h.9v.9h-.9zM56.6 283.2h.9v.9h-.9zM61.4 287.3h.9v.9h-.9zM64.8 291.5h.9v.9h-.9zM82.3 286.9h.9v.9h-.9zM64.0 286.9h.9v.9h-.9zM75.2 279.7h.9v.9h-.9zM71.0 287.1h.9v.9h-.9zM69.9 290.6h.9v.9h-.9zM79.1 280.5h.9v.9h-.9zM68.7 280.9h.9v.9h-.9zM73.0 280.6h.9v.9h-.9zM76.5 285.6h.9v.9h-.9zM76.9 283.4h.9v.9h-.9zM53.9 292.0h.9v.9h-.9zM66.1 290.0h.9v.9h-.9zM71.8 286.9h.9v.9h-.9zM85.2 285.1h.9v.9h-.9zM80.8 277.8h.9v.9h-.9zM75.9 283.0h.9v.9h-.9zM66.3 284.4h.9v.9h-.9zM71.2 290.9h.9v.9h-.9zM49.8 285.1h.9v.9h-.9zM60.9 289.3h.9v.9h-.9zM63.6 286.3h.9v.9h-.9zM63.9 287.2h.9v.9h-.9zM77.3 282.3h.9v.9h-.9zM67.9 278.5h.9v.9h-.9zM70.7 287.7h.9v.9h-.9zM62.4 289.1h.9v.9h-.9zM47.4 277.4h.9v.9h-.9zM54.2 282.8h.9v.9h-.9zM67.8 284.0h.9v.9h-.9zM67.1 287.3h.9v.9h-.9zM62.9 279.3h.9v.9h-.9zM56.0 293.3h.9v.9h-.9zM45.0 284.4h.9v.9h-.9zM81.7 285.8h.9v.9h-.9zM59.6 284.6h.9v.9h-.9zM76.1 288.9h.9v.9h-.9zM59.1 287.7h.9v.9h-.9zM70.2 288.7h.9v.9h-.9zM80.9 282.4h.9v.9h-.9zM53.7 286.4h.9v.9h-.9zM84.7 286.5h.9v.9h-.9zM70.2 294.0h.9v.9h-.9zM57.8 288.3h.9v.9h-.9zM62.1 284.7h.9v.9h-.9zM68.7 290.4h.9v.9h-.9zM58.5 282.4h.9v.9h-.9zM52.4 286.8h.9v.9h-.9zM63.3 286.2h.9v.9h-.9zM57.3 283.2h.9v.9h-.9zM77.5 283.2h.9v.9h-.9zM73.7 286.2h.9v.9h-.9zM64.0 278.1h.9v.9h-.9zM77.1 284.7h.9v.9h-.9zM76.7 275.8h.9v.9h-.9zM51.4 276.1h.9v.9h-.9zM59.3 288.8h.9v.9h-.9zM73.0 284.0h.9v.9h-.9zM69.0 287.4h.9v.9h-.9zM64.8 286.0h.9v.9h-.9zM68.6 275.3h.9v.9h-.9zM64.1 290.0h.9v.9h-.9zM63.8 283.8h.9v.9h-.9zM61.7 282.5h.9v.9h-.9zM78.3 282.8h.9v.9h-.9zM57.4 272.0h.9v.9h-.9zM61.8 276.5h.9v.9h-.9zM50.2 288.2h.9v.9h-.9zM74.1 276.2h.9v.9h-.9zM79.3 286.4h.9v.9h-.9zM57.1 288.7h.9v.9h-.9zM45.3 278.5h.9v.9h-.9zM47.8 278.9h.9v.9h-.9zM79.3 276.6h.9v.9h-.9zM51.8 279.7h.9v.9h-.9zM70.2 282.4h.9v.9h-.9zM79.2 280.0h.9v.9h-.9zM50.0 282.2h.9v.9h-.9zM67.9 279.2h.9v.9h-.9zM71.7 294.0h.9v.9h-.9zM59.6 284.8h.9v.9h-.9zM85.7 280.1h.9v.9h-.9zM55.7 278.7h.9v.9h-.9zM72.9 286.8h.9v.9h-.9zM65.4 284.5h.9v.9h-.9zM84.8 288.3h.9v.9h-.9zM48.3 284.8h.9v.9h-.9zM68.9 288.1h.9v.9h-.9zM64.1 280.8h.9v.9h-.9zM60.7 274.7h.9v.9h-.9zM66.8 280.9h.9v.9h-.9zM73.4 278.4h.9v.9h-.9zM61.1 279.0h.9v.9h-.9zM52.8 288.4h.9v.9h-.9zM60.9 286.8h.9v.9h-.9zM51.9 285.2h.9v.9h-.9zM44.1 282.3h.9v.9h-.9zM60.4 287.5h.9v.9h-.9zM69.5 283.1h.9v.9h-.9zM78.5 284.7h.9v.9h-.9zM74.5 288.0h.9v.9h-.9zM66.1 282.5h.9v.9h-.9zM71.4 281.7h.9v.9h-.9zM72.5 289.9h.9v.9h-.9zM78.5 281.6h.9v.9h-.9zM49.5 284.4h.9v.9h-.9zM65.5 290.1h.9v.9h-.9zM61.7 283.1h.9v.9h-.9zM76.9 281.1h.9v.9h-.9zM65.1 293.4h.9v.9h-.9zM87.3 286.8h.9v.9h-.9zM70.4 278.7h.9v.9h-.9zM74.5 284.1h.9v.9h-.9zM69.8 281.1h.9v.9h-.9zM66.8 283.1h.9v.9h-.9zM71.5 291.7h.9v.9h-.9zM71.5 274.9h.9v.9h-.9zM53.5 275.9h.9v.9h-.9zM56.3 287.5h.9v.9h-.9zM72.3 280.6h.9v.9h-.9zM70.4 279.8h.9v.9h-.9zM47.4 277.1h.9v.9h-.9zM55.6 292.2h.9v.9h-.9zM49.0 291.4h.9v.9h-.9zM84.9 282.4h.9v.9h-.9zM66.1 280.8h.9v.9h-.9zM66.7 287.6h.9v.9h-.9zM67.2 289.5h.9v.9h-.9zM83.1 285.4h.9v.9h-.9zM71.3 283.6h.9v.9h-.9zM71.4 277.8h.9v.9h-.9zM72.4 285.0h.9v.9h-.9zM55.6 296.1h.9v.9h-.9zM53.5 279.8h.9v.9h-.9zM70.3 273.4h.9v.9h-.9zM55.9 276.1h.9v.9h-.9zM53.7 283.8h.9v.9h-.9zM71.4 289.9h.9v.9h-.9zM78.0 290.1h.9v.9h-.9zM74.8 281.2h.9v.9h-.9zM81.9 280.9h.9v.9h-.9zM58.8 292.6h.9v.9h-.9zM77.6 284.8h.9v.9h-.9zM77.2 288.4h.9v.9h-.9zM48.3 284.2h.9v.9h-.9zM50.9 285.2h.9v.9h-.9zM58.0 291.7h.9v.9h-.9zM73.7 279.4h.9v.9h-.9zM66.4 277.5h.9v.9h-.9zM67.5 287.0h.9v.9h-.9zM70.0 273.4h.9v.9h-.9zM62.4 286.9h.9v.9h-.9zM71.2 290.2h.9v.9h-.9zM49.5 287.5h.9v.9h-.9zM58.0 285.4h.9v.9h-.9zM72.5 287.6h.9v.9h-.9zM59.0 285.3h.9v.9h-.9zM50.7 276.9h.9v.9h-.9zM74.3 283.5h.9v.9h-.9zM44.7 280.2h.9v.9h-.9zM67.4 292.5h.9v.9h-.9zM81.2 287.9h.9v.9h-.9zM42.5 284.3h.9v.9h-.9zM73.4 285.9h.9v.9h-.9zM72.4 282.5h.9v.9h-.9zM91.0 291.2h.9v.9h-.9zM65.3 278.7h.9v.9h-.9zM94.6 280.0h.9v.9h-.9zM83.4 293.8h.9v.9h-.9zM54.0 286.0h.9v.9h-.9zM62.2 287.0h.9v.9h-.9zM71.5 294.4h.9v.9h-.9zM74.8 283.7h.9v.9h-.9zM82.0 282.0h.9v.9h-.9zM62.3 296.4h.9v.9h-.9zM55.5 281.7h.9v.9h-.9zM67.2 278.2h.9v.9h-.9zM38.3 290.7h.9v.9h-.9zM56.0 281.4h.9v.9h-.9zM61.5 278.8h.9v.9h-.9zM52.2 285.4h.9v.9h-.9zM99.5 286.9h.9v.9h-.9zM76.7 275.5h.9v.9h-.9zM66.2 277.6h.9v.9h-.9zM77.2 282.4h.9v.9h-.9zM67.3 283.5h.9v.9h-.9zM58.6 276.0h.9v.9h-.9zM74.4 276.2h.9v.9h-.9zM50.7 282.9h.9v.9h-.9z" fill="#000" fill-opacity="0.32"/>
</g>
<path d="M64.50 243.00L64.50 315.50" stroke="#8c9af3" stroke-width="0.9"/>
<path d="M27.80 302.30L107.70 302.30" stroke="#8c9af3" stroke-width="0.9"/>
<path d="M26.00 251.69L27.30 251.69" stroke="#777" stroke-width="0.6"/>
<path d="M26.00 260.88L27.30 260.88" stroke="#777" stroke-width="0.6"/>
<path d="M26.00 270.06L27.30 270.06" stroke="#777" stroke-width="0.6"/>
<path d="M26.00 279.25L27.30 279.25" stroke="#777" stroke-width="0.6"/>
<path d="M26.00 288.44L27.30 288.44" stroke="#777" stroke-width="0.6"/>
<path d="M26.00 297.62L27.30 297.62" stroke="#777" stroke-width="0.6"/>
<path d="M26.00 306.81L27.30 306.81" stroke="#777" stroke-width="0.6"/>
<path d="M33.08 316.00L33.08 317.20" stroke="#777" stroke-width="0.6"/>
<path d="M38.86 316.00L38.86 317.20" stroke="#777" stroke-width="0.6"/>
<path d="M44.64 316.00L44.64 317.20" stroke="#777" stroke-width="0.6"/>
<path d="M50.41 316.00L50.41 317.20" stroke="#777" stroke-width="0.6"/>
<path d="M56.19 316.00L56.19 317.20" stroke="#777" stroke-width="0.6"/>
<path d="M61.97 316.00L61.97 317.20" stroke="#777" stroke-width="0.6"/>
<path d="M67.75 316.00L67.75 317.20" stroke="#777" stroke-width="0.6"/>
<path d="M73.53 316.00L73.53 317.20" stroke="#777" stroke-width="0.6"/>
<path d="M79.31 316.00L79.31 317.20" stroke="#777" stroke-width="0.6"/>
<path d="M85.09 316.00L85.09 317.20" stroke="#777" stroke-width="0.6"/>
<path d="M90.86 316.00L90.86 317.20" stroke="#777" stroke-width="0.6"/>
<path d="M96.64 316.00L96.64 317.20" stroke="#777" stroke-width="0.6"/>
<path d="M102.42 316.00L102.42 317.20" stroke="#777" stroke-width="0.6"/>
<circle cx="29.900000000000002" cy="313.4" r="0.9" fill="none" stroke="#777" stroke-width="0.5"/>
<circle cx="105.60000000000001" cy="313.4" r="0.9" fill="none" stroke="#777" stroke-width="0.5"/>
<text x="34.72" y="255.05" font-size="8.8" textLength="19.61" lengthAdjust="spacingAndGlyphs" stroke="#000" stroke-width="0.15">37%</text>
<text x="83.46" y="254.99" font-size="8.8" textLength="19.99" lengthAdjust="spacingAndGlyphs" stroke="#000" stroke-width="0.15">63%</text>
<text x="67.59" y="312.1" font-size="8.8" textLength="30.35" lengthAdjust="spacingAndGlyphs" stroke="#000" stroke-width="0.15">Trained</text>
<rect x="25.8" y="319.9" width="82.30" height="74.40" fill="#fff" stroke="#222" stroke-width="1.0"/>
<g filter="url(#soft)">
<ellipse cx="62.5" cy="360.5" rx="23.2" ry="10.2" fill="url(#cgd)" fill-opacity="1.0" filter="url(#sp4)" transform="rotate(-3 62.5 360.5)"/>
<path d="M55.4 361.6h.9v.9h-.9zM71.4 360.8h.9v.9h-.9zM63.8 360.3h.9v.9h-.9zM69.5 352.8h.9v.9h-.9zM65.2 356.5h.9v.9h-.9zM50.5 360.9h.9v.9h-.9zM58.5 362.7h.9v.9h-.9zM71.7 350.8h.9v.9h-.9zM61.7 367.8h.9v.9h-.9zM70.3 365.4h.9v.9h-.9zM62.6 354.7h.9v.9h-.9zM51.6 363.6h.9v.9h-.9zM70.7 357.0h.9v.9h-.9zM59.5 361.4h.9v.9h-.9zM45.6 359.8h.9v.9h-.9zM77.4 367.9h.9v.9h-.9zM61.3 367.4h.9v.9h-.9zM56.9 357.5h.9v.9h-.9zM41.3 365.1h.9v.9h-.9zM58.9 369.5h.9v.9h-.9zM65.1 360.9h.9v.9h-.9zM45.5 366.9h.9v.9h-.9zM58.5 359.9h.9v.9h-.9zM41.6 364.9h.9v.9h-.9zM71.0 357.5h.9v.9h-.9zM62.9 361.8h.9v.9h-.9zM70.9 360.2h.9v.9h-.9zM77.9 358.5h.9v.9h-.9zM56.2 358.8h.9v.9h-.9zM38.2 358.5h.9v.9h-.9zM71.4 360.8h.9v.9h-.9zM54.4 362.1h.9v.9h-.9zM43.2 360.2h.9v.9h-.9zM67.0 362.7h.9v.9h-.9zM55.0 364.2h.9v.9h-.9zM79.3 357.8h.9v.9h-.9zM68.6 354.0h.9v.9h-.9zM43.9 363.6h.9v.9h-.9zM62.4 361.1h.9v.9h-.9zM56.5 359.5h.9v.9h-.9zM69.9 366.5h.9v.9h-.9zM59.7 354.1h.9v.9h-.9zM74.0 362.0h.9v.9h-.9zM68.4 360.7h.9v.9h-.9zM83.6 359.5h.9v.9h-.9zM66.4 353.0h.9v.9h-.9zM56.5 358.0h.9v.9h-.9zM61.8 361.7h.9v.9h-.9zM55.4 367.3h.9v.9h-.9zM52.0 359.1h.9v.9h-.9zM64.0 355.4h.9v.9h-.9zM67.4 362.5h.9v.9h-.9zM59.7 367.8h.9v.9h-.9zM62.8 361.4h.9v.9h-.9zM52.8 354.4h.9v.9h-.9zM56.1 359.4h.9v.9h-.9zM57.9 363.5h.9v.9h-.9zM39.6 357.1h.9v.9h-.9zM45.3 366.4h.9v.9h-.9zM56.7 358.6h.9v.9h-.9zM52.0 364.3h.9v.9h-.9zM58.2 361.4h.9v.9h-.9zM43.3 365.8h.9v.9h-.9zM65.8 362.3h.9v.9h-.9zM73.5 359.0h.9v.9h-.9zM60.6 363.2h.9v.9h-.9zM65.9 359.2h.9v.9h-.9zM62.3 358.4h.9v.9h-.9zM68.9 363.6h.9v.9h-.9zM62.5 367.5h.9v.9h-.9zM47.7 360.2h.9v.9h-.9zM77.9 357.9h.9v.9h-.9zM47.4 366.5h.9v.9h-.9zM66.9 355.5h.9v.9h-.9zM69.0 356.0h.9v.9h-.9zM49.5 360.4h.9v.9h-.9zM57.3 356.4h.9v.9h-.9zM58.4 356.7h.9v.9h-.9zM62.6 360.2h.9v.9h-.9zM68.9 358.2h.9v.9h-.9zM49.4 355.9h.9v.9h-.9zM60.1 366.4h.9v.9h-.9zM69.8 357.5h.9v.9h-.9zM70.6 355.4h.9v.9h-.9zM71.4 358.4h.9v.9h-.9zM69.3 362.4h.9v.9h-.9zM59.5 361.7h.9v.9h-.9zM52.1 360.6h.9v.9h-.9zM73.0 375.6h.9v.9h-.9zM68.6 360.3h.9v.9h-.9zM52.8 364.9h.9v.9h-.9zM46.5 358.1h.9v.9h-.9zM65.2 355.5h.9v.9h-.9zM76.6 363.8h.9v.9h-.9zM56.7 358.5h.9v.9h-.9zM49.5 355.6h.9v.9h-.9zM66.3 362.5h.9v.9h-.9zM65.4 361.2h.9v.9h-.9zM56.9 362.0h.9v.9h-.9zM48.3 361.1h.9v.9h-.9zM76.1 364.7h.9v.9h-.9zM57.7 359.3h.9v.9h-.9zM75.3 366.6h.9v.9h-.9zM48.0 359.4h.9v.9h-.9zM64.5 364.9h.9v.9h-.9zM54.4 363.2h.9v.9h-.9zM59.7 369.6h.9v.9h-.9zM66.0 359.6h.9v.9h-.9zM59.2 364.6h.9v.9h-.9zM68.2 355.8h.9v.9h-.9zM63.8 355.1h.9v.9h-.9zM54.8 355.7h.9v.9h-.9zM49.6 358.4h.9v.9h-.9zM53.0 362.9h.9v.9h-.9zM69.5 359.0h.9v.9h-.9zM51.8 364.0h.9v.9h-.9zM42.8 353.9h.9v.9h-.9zM69.0 362.5h.9v.9h-.9zM71.1 359.0h.9v.9h-.9zM50.2 359.0h.9v.9h-.9zM67.2 357.1h.9v.9h-.9zM55.2 355.3h.9v.9h-.9zM51.4 364.2h.9v.9h-.9zM66.1 355.7h.9v.9h-.9zM51.9 358.7h.9v.9h-.9zM67.0 355.6h.9v.9h-.9zM60.1 352.2h.9v.9h-.9zM50.4 362.6h.9v.9h-.9zM70.2 355.5h.9v.9h-.9zM55.0 363.8h.9v.9h-.9zM58.3 358.5h.9v.9h-.9zM67.0 360.9h.9v.9h-.9zM72.6 362.9h.9v.9h-.9zM56.7 360.2h.9v.9h-.9zM61.2 355.2h.9v.9h-.9zM53.2 364.6h.9v.9h-.9zM47.5 365.0h.9v.9h-.9zM64.7 359.7h.9v.9h-.9zM67.2 361.9h.9v.9h-.9zM73.3 358.2h.9v.9h-.9zM59.9 359.5h.9v.9h-.9zM79.8 363.1h.9v.9h-.9zM53.4 359.5h.9v.9h-.9zM55.5 360.8h.9v.9h-.9zM64.6 369.1h.9v.9h-.9zM45.3 365.2h.9v.9h-.9zM66.0 357.4h.9v.9h-.9zM60.6 358.5h.9v.9h-.9zM62.8 364.2h.9v.9h-.9zM48.2 366.2h.9v.9h-.9zM59.0 366.3h.9v.9h-.9zM66.2 364.9h.9v.9h-.9zM67.6 364.3h.9v.9h-.9zM62.5 357.2h.9v.9h-.9zM68.6 362.8h.9v.9h-.9zM81.3 351.7h.9v.9h-.9zM60.5 364.6h.9v.9h-.9zM50.5 360.1h.9v.9h-.9zM82.2 364.8h.9v.9h-.9zM54.3 366.3h.9v.9h-.9zM73.4 362.8h.9v.9h-.9zM65.8 361.1h.9v.9h-.9zM54.0 358.8h.9v.9h-.9zM69.1 360.6h.9v.9h-.9zM79.4 358.2h.9v.9h-.9zM39.8 360.3h.9v.9h-.9zM64.9 361.7h.9v.9h-.9zM62.7 357.2h.9v.9h-.9zM76.0 357.1h.9v.9h-.9zM68.8 359.0h.9v.9h-.9zM51.4 366.4h.9v.9h-.9zM38.7 358.4h.9v.9h-.9zM66.2 358.8h.9v.9h-.9zM69.2 359.7h.9v.9h-.9zM58.5 368.9h.9v.9h-.9zM60.2 359.9h.9v.9h-.9zM52.1 358.1h.9v.9h-.9zM68.4 362.3h.9v.9h-.9zM62.2 357.7h.9v.9h-.9zM68.3 353.6h.9v.9h-.9zM59.1 359.6h.9v.9h-.9zM54.5 361.4h.9v.9h-.9zM56.0 357.7h.9v.9h-.9zM79.2 362.4h.9v.9h-.9zM73.5 360.1h.9v.9h-.9zM71.5 363.0h.9v.9h-.9zM74.1 369.0h.9v.9h-.9zM60.3 361.6h.9v.9h-.9zM61.2 347.0h.9v.9h-.9zM49.4 361.2h.9v.9h-.9zM68.2 358.0h.9v.9h-.9zM73.2 364.8h.9v.9h-.9zM58.9 366.1h.9v.9h-.9zM78.8 361.4h.9v.9h-.9zM53.6 366.6h.9v.9h-.9zM60.9 359.1h.9v.9h-.9zM63.4 358.4h.9v.9h-.9zM72.6 363.0h.9v.9h-.9zM73.9 362.1h.9v.9h-.9zM55.1 360.3h.9v.9h-.9zM70.5 358.5h.9v.9h-.9zM89.6 358.1h.9v.9h-.9zM57.3 365.2h.9v.9h-.9zM69.4 360.0h.9v.9h-.9zM60.4 362.2h.9v.9h-.9zM70.4 363.0h.9v.9h-.9zM59.8 362.3h.9v.9h-.9zM70.5 363.0h.9v.9h-.9zM33.7 358.6h.9v.9h-.9zM55.2 360.0h.9v.9h-.9zM64.3 363.9h.9v.9h-.9zM68.2 359.7h.9v.9h-.9zM63.1 367.2h.9v.9h-.9zM56.9 362.0h.9v.9h-.9zM77.1 361.1h.9v.9h-.9zM43.6 362.9h.9v.9h-.9zM58.9 360.3h.9v.9h-.9zM72.4 361.8h.9v.9h-.9zM60.2 364.0h.9v.9h-.9zM66.6 360.7h.9v.9h-.9zM65.3 361.3h.9v.9h-.9zM59.3 358.9h.9v.9h-.9zM62.5 356.8h.9v.9h-.9zM51.1 366.1h.9v.9h-.9zM60.3 360.5h.9v.9h-.9zM61.3 360.7h.9v.9h-.9zM62.7 360.7h.9v.9h-.9zM55.2 364.5h.9v.9h-.9zM56.3 364.8h.9v.9h-.9zM44.5 357.4h.9v.9h-.9zM71.7 359.4h.9v.9h-.9zM56.3 362.3h.9v.9h-.9zM52.8 361.3h.9v.9h-.9zM41.8 359.8h.9v.9h-.9zM56.6 362.9h.9v.9h-.9zM70.5 356.8h.9v.9h-.9zM77.3 357.4h.9v.9h-.9zM42.9 352.4h.9v.9h-.9zM76.8 359.4h.9v.9h-.9zM56.3 357.9h.9v.9h-.9zM52.6 366.2h.9v.9h-.9zM62.1 367.4h.9v.9h-.9zM60.2 351.6h.9v.9h-.9zM70.3 358.7h.9v.9h-.9zM60.6 366.6h.9v.9h-.9zM60.3 365.1h.9v.9h-.9zM62.3 357.6h.9v.9h-.9zM67.1 357.9h.9v.9h-.9zM74.1 363.6h.9v.9h-.9zM63.2 362.8h.9v.9h-.9zM67.7 359.2h.9v.9h-.9zM70.8 359.2h.9v.9h-.9zM68.0 356.6h.9v.9h-.9zM63.5 362.0h.9v.9h-.9zM55.1 359.3h.9v.9h-.9zM57.7 363.6h.9v.9h-.9zM55.9 362.5h.9v.9h-.9zM76.8 361.1h.9v.9h-.9zM47.6 361.8h.9v.9h-.9zM72.2 358.9h.9v.9h-.9zM73.0 362.4h.9v.9h-.9zM66.4 359.3h.9v.9h-.9zM57.8 359.8h.9v.9h-.9zM63.3 362.5h.9v.9h-.9zM66.4 359.2h.9v.9h-.9zM63.3 362.0h.9v.9h-.9zM47.4 358.4h.9v.9h-.9zM55.1 360.1h.9v.9h-.9zM60.0 359.7h.9v.9h-.9zM54.7 363.5h.9v.9h-.9zM64.9 354.1h.9v.9h-.9zM62.5 356.2h.9v.9h-.9zM78.4 358.0h.9v.9h-.9zM59.0 361.1h.9v.9h-.9zM60.8 360.4h.9v.9h-.9zM77.1 360.7h.9v.9h-.9zM70.6 364.5h.9v.9h-.9zM53.9 367.5h.9v.9h-.9zM69.2 363.9h.9v.9h-.9zM54.8 364.1h.9v.9h-.9zM66.4 358.3h.9v.9h-.9zM84.0 361.6h.9v.9h-.9zM60.5 361.4h.9v.9h-.9zM71.4 364.5h.9v.9h-.9zM68.3 364.9h.9v.9h-.9zM76.1 355.1h.9v.9h-.9zM58.0 357.2h.9v.9h-.9zM63.9 366.1h.9v.9h-.9zM68.5 356.2h.9v.9h-.9zM60.2 364.7h.9v.9h-.9zM57.7 360.5h.9v.9h-.9zM65.2 353.4h.9v.9h-.9zM70.0 361.5h.9v.9h-.9zM67.8 356.5h.9v.9h-.9zM55.4 358.7h.9v.9h-.9zM65.0 360.7h.9v.9h-.9zM64.2 367.4h.9v.9h-.9zM74.7 357.2h.9v.9h-.9zM57.0 367.5h.9v.9h-.9zM60.0 366.0h.9v.9h-.9zM77.4 357.7h.9v.9h-.9zM60.2 361.0h.9v.9h-.9zM54.5 357.2h.9v.9h-.9zM59.1 364.0h.9v.9h-.9zM58.5 360.0h.9v.9h-.9zM58.1 355.6h.9v.9h-.9zM76.0 350.9h.9v.9h-.9zM56.7 363.0h.9v.9h-.9zM49.8 363.6h.9v.9h-.9zM74.1 356.7h.9v.9h-.9zM64.4 356.2h.9v.9h-.9zM67.4 360.7h.9v.9h-.9zM65.0 365.7h.9v.9h-.9zM67.3 365.5h.9v.9h-.9zM68.3 355.7h.9v.9h-.9zM65.2 362.3h.9v.9h-.9zM49.5 366.4h.9v.9h-.9zM63.4 361.9h.9v.9h-.9zM54.4 361.3h.9v.9h-.9zM65.4 359.2h.9v.9h-.9zM63.0 352.4h.9v.9h-.9zM75.1 355.6h.9v.9h-.9zM42.2 357.9h.9v.9h-.9zM55.0 363.1h.9v.9h-.9zM54.2 362.1h.9v.9h-.9zM54.2 369.5h.9v.9h-.9zM68.1 367.8h.9v.9h-.9zM53.4 363.6h.9v.9h-.9zM53.9 363.2h.9v.9h-.9zM68.6 354.1h.9v.9h-.9zM51.9 356.6h.9v.9h-.9zM48.5 358.5h.9v.9h-.9zM53.4 355.5h.9v.9h-.9zM63.7 362.6h.9v.9h-.9zM50.3 359.1h.9v.9h-.9zM62.7 359.7h.9v.9h-.9zM56.3 364.0h.9v.9h-.9zM70.6 362.7h.9v.9h-.9zM61.1 368.3h.9v.9h-.9zM78.7 358.2h.9v.9h-.9zM61.7 365.2h.9v.9h-.9zM55.3 362.5h.9v.9h-.9zM62.9 357.8h.9v.9h-.9zM60.1 354.6h.9v.9h-.9zM57.2 353.1h.9v.9h-.9zM84.1 365.2h.9v.9h-.9zM74.1 361.1h.9v.9h-.9zM72.1 364.9h.9v.9h-.9zM72.2 363.6h.9v.9h-.9zM54.2 362.6h.9v.9h-.9zM57.4 356.3h.9v.9h-.9zM52.0 362.7h.9v.9h-.9zM72.1 354.8h.9v.9h-.9zM79.1 365.3h.9v.9h-.9zM58.9 358.9h.9v.9h-.9zM62.1 364.3h.9v.9h-.9zM58.8 356.5h.9v.9h-.9zM65.3 352.4h.9v.9h-.9zM64.1 364.9h.9v.9h-.9zM65.5 363.3h.9v.9h-.9zM67.2 363.1h.9v.9h-.9zM63.7 357.2h.9v.9h-.9zM60.4 360.3h.9v.9h-.9zM74.5 366.1h.9v.9h-.9zM66.3 357.4h.9v.9h-.9zM55.7 360.1h.9v.9h-.9zM75.5 361.1h.9v.9h-.9zM61.8 357.6h.9v.9h-.9zM70.8 361.2h.9v.9h-.9zM62.0 360.9h.9v.9h-.9zM78.1 359.1h.9v.9h-.9zM78.4 364.4h.9v.9h-.9zM63.2 363.9h.9v.9h-.9zM61.2 357.4h.9v.9h-.9zM59.8 357.2h.9v.9h-.9zM67.3 360.3h.9v.9h-.9zM67.9 363.4h.9v.9h-.9zM33.6 363.2h.9v.9h-.9zM45.8 362.0h.9v.9h-.9zM54.4 361.3h.9v.9h-.9zM74.8 353.3h.9v.9h-.9zM64.3 360.1h.9v.9h-.9zM45.1 363.9h.9v.9h-.9zM62.7 358.5h.9v.9h-.9zM56.4 373.2h.9v.9h-.9zM58.5 353.8h.9v.9h-.9zM53.8 359.5h.9v.9h-.9zM58.9 360.4h.9v.9h-.9zM52.9 363.1h.9v.9h-.9zM57.7 355.5h.9v.9h-.9zM54.8 359.4h.9v.9h-.9zM70.5 361.9h.9v.9h-.9zM59.4 360.7h.9v.9h-.9zM64.9 368.2h.9v.9h-.9zM56.9 362.6h.9v.9h-.9zM69.1 356.5h.9v.9h-.9zM64.3 361.0h.9v.9h-.9zM58.3 362.9h.9v.9h-.9zM72.3 364.3h.9v.9h-.9zM60.8 361.3h.9v.9h-.9zM84.1 355.1h.9v.9h-.9zM64.7 363.8h.9v.9h-.9zM64.0 362.9h.9v.9h-.9zM64.3 363.3h.9v.9h-.9zM74.4 359.0h.9v.9h-.9zM64.3 360.2h.9v.9h-.9zM58.7 360.6h.9v.9h-.9zM52.1 363.9h.9v.9h-.9zM78.7 366.2h.9v.9h-.9zM74.2 356.2h.9v.9h-.9zM76.5 357.0h.9v.9h-.9zM62.4 367.6h.9v.9h-.9zM52.7 364.2h.9v.9h-.9zM65.1 359.8h.9v.9h-.9zM54.4 362.5h.9v.9h-.9zM58.4 364.7h.9v.9h-.9zM73.6 354.6h.9v.9h-.9zM57.7 359.5h.9v.9h-.9zM51.3 356.8h.9v.9h-.9zM63.3 359.7h.9v.9h-.9zM47.1 359.2h.9v.9h-.9zM67.1 355.6h.9v.9h-.9zM54.2 367.0h.9v.9h-.9zM74.4 353.6h.9v.9h-.9zM50.0 362.6h.9v.9h-.9zM51.4 360.1h.9v.9h-.9zM58.4 362.9h.9v.9h-.9zM38.6 353.3h.9v.9h-.9zM51.3 365.0h.9v.9h-.9zM60.7 354.0h.9v.9h-.9zM67.2 363.0h.9v.9h-.9zM60.2 359.4h.9v.9h-.9zM66.8 364.9h.9v.9h-.9zM64.0 362.5h.9v.9h-.9zM62.0 359.1h.9v.9h-.9zM54.0 361.9h.9v.9h-.9zM59.7 359.7h.9v.9h-.9zM71.2 361.9h.9v.9h-.9zM70.3 354.0h.9v.9h-.9zM67.6 358.0h.9v.9h-.9zM54.8 357.6h.9v.9h-.9zM73.9 363.1h.9v.9h-.9zM55.6 356.5h.9v.9h-.9zM62.5 358.7h.9v.9h-.9zM77.6 354.1h.9v.9h-.9zM45.5 360.4h.9v.9h-.9zM62.6 361.0h.9v.9h-.9zM69.9 368.1h.9v.9h-.9zM59.2 358.6h.9v.9h-.9zM46.2 362.3h.9v.9h-.9zM70.4 359.1h.9v.9h-.9zM73.5 360.0h.9v.9h-.9zM76.6 361.0h.9v.9h-.9zM52.6 358.6h.9v.9h-.9zM47.9 354.6h.9v.9h-.9zM65.2 363.7h.9v.9h-.9zM80.6 359.3h.9v.9h-.9zM60.1 356.4h.9v.9h-.9zM71.7 361.5h.9v.9h-.9zM57.1 363.4h.9v.9h-.9zM67.3 353.1h.9v.9h-.9zM69.4 360.7h.9v.9h-.9zM58.8 359.1h.9v.9h-.9zM79.0 365.5h.9v.9h-.9zM79.2 355.2h.9v.9h-.9zM56.6 364.3h.9v.9h-.9zM51.1 358.3h.9v.9h-.9zM46.1 368.5h.9v.9h-.9zM72.5 361.7h.9v.9h-.9zM64.5 358.8h.9v.9h-.9zM58.9 363.1h.9v.9h-.9zM56.1 365.6h.9v.9h-.9zM57.7 357.4h.9v.9h-.9zM74.5 359.3h.9v.9h-.9zM67.6 358.6h.9v.9h-.9zM41.7 363.7h.9v.9h-.9zM50.2 365.3h.9v.9h-.9zM47.7 354.1h.9v.9h-.9zM65.4 362.0h.9v.9h-.9zM63.2 355.8h.9v.9h-.9zM70.5 354.5h.9v.9h-.9zM58.0 357.7h.9v.9h-.9zM59.2 364.0h.9v.9h-.9zM56.7 363.0h.9v.9h-.9zM68.6 353.6h.9v.9h-.9zM51.6 359.6h.9v.9h-.9zM57.1 362.0h.9v.9h-.9zM44.7 364.2h.9v.9h-.9zM69.4 359.5h.9v.9h-.9zM49.7 361.2h.9v.9h-.9zM57.6 362.9h.9v.9h-.9zM61.9 363.3h.9v.9h-.9zM58.8 366.2h.9v.9h-.9zM40.9 357.7h.9v.9h-.9zM66.8 354.5h.9v.9h-.9zM69.1 355.5h.9v.9h-.9zM63.2 356.9h.9v.9h-.9zM58.4 361.4h.9v.9h-.9zM61.5 359.1h.9v.9h-.9zM82.5 359.5h.9v.9h-.9zM53.7 364.5h.9v.9h-.9zM70.4 364.8h.9v.9h-.9zM78.9 356.0h.9v.9h-.9zM72.6 364.4h.9v.9h-.9zM62.6 361.4h.9v.9h-.9zM34.5 359.8h.9v.9h-.9zM78.7 352.8h.9v.9h-.9zM57.6 361.9h.9v.9h-.9zM68.2 366.5h.9v.9h-.9zM46.1 361.5h.9v.9h-.9zM70.2 355.0h.9v.9h-.9zM62.5 367.7h.9v.9h-.9zM74.8 361.9h.9v.9h-.9zM38.2 361.3h.9v.9h-.9zM66.0 359.1h.9v.9h-.9zM62.5 372.4h.9v.9h-.9zM60.3 356.9h.9v.9h-.9zM64.7 359.2h.9v.9h-.9zM59.6 360.3h.9v.9h-.9zM69.7 361.0h.9v.9h-.9zM51.3 360.6h.9v.9h-.9zM66.8 358.5h.9v.9h-.9zM73.3 362.9h.9v.9h-.9zM53.4 362.2h.9v.9h-.9zM81.2 365.5h.9v.9h-.9zM62.2 364.0h.9v.9h-.9zM56.0 355.3h.9v.9h-.9zM67.7 361.2h.9v.9h-.9zM67.3 360.2h.9v.9h-.9zM65.4 358.4h.9v.9h-.9zM67.1 363.5h.9v.9h-.9zM62.1 363.7h.9v.9h-.9zM45.9 358.3h.9v.9h-.9zM76.3 366.6h.9v.9h-.9zM64.8 360.0h.9v.9h-.9zM50.8 362.5h.9v.9h-.9zM69.4 354.4h.9v.9h-.9zM67.8 362.1h.9v.9h-.9zM66.4 356.0h.9v.9h-.9zM67.2 354.5h.9v.9h-.9zM76.4 360.3h.9v.9h-.9zM52.0 366.2h.9v.9h-.9zM73.1 357.4h.9v.9h-.9zM82.8 355.6h.9v.9h-.9zM65.6 364.9h.9v.9h-.9zM41.6 365.4h.9v.9h-.9zM61.9 360.5h.9v.9h-.9zM52.6 362.3h.9v.9h-.9zM52.0 357.3h.9v.9h-.9zM58.1 356.0h.9v.9h-.9zM76.8 354.6h.9v.9h-.9zM55.4 359.7h.9v.9h-.9zM62.7 363.5h.9v.9h-.9zM70.0 358.9h.9v.9h-.9zM58.9 360.8h.9v.9h-.9zM70.3 362.8h.9v.9h-.9zM57.3 352.9h.9v.9h-.9zM82.6 363.1h.9v.9h-.9zM65.0 361.7h.9v.9h-.9zM57.5 356.9h.9v.9h-.9zM59.4 359.8h.9v.9h-.9zM56.4 355.2h.9v.9h-.9zM59.7 362.9h.9v.9h-.9zM57.9 360.8h.9v.9h-.9zM43.2 360.7h.9v.9h-.9zM61.1 355.9h.9v.9h-.9zM46.5 362.9h.9v.9h-.9zM55.1 362.8h.9v.9h-.9zM58.7 363.1h.9v.9h-.9zM59.1 354.9h.9v.9h-.9zM61.6 359.3h.9v.9h-.9zM68.5 358.5h.9v.9h-.9zM59.0 364.0h.9v.9h-.9zM73.5 362.8h.9v.9h-.9zM72.2 361.7h.9v.9h-.9zM69.8 363.5h.9v.9h-.9zM66.3 360.5h.9v.9h-.9zM64.3 369.7h.9v.9h-.9zM62.6 359.6h.9v.9h-.9zM59.1 360.5h.9v.9h-.9zM64.5 356.0h.9v.9h-.9zM44.2 362.6h.9v.9h-.9zM47.6 362.3h.9v.9h-.9zM64.0 364.9h.9v.9h-.9zM78.1 361.1h.9v.9h-.9zM57.1 356.3h.9v.9h-.9zM55.2 361.0h.9v.9h-.9zM43.3 361.8h.9v.9h-.9zM62.5 363.0h.9v.9h-.9zM59.4 361.1h.9v.9h-.9zM55.6 359.1h.9v.9h-.9zM46.1 361.8h.9v.9h-.9zM76.9 360.4h.9v.9h-.9zM65.7 356.6h.9v.9h-.9zM75.6 356.9h.9v.9h-.9zM70.0 360.5h.9v.9h-.9zM53.8 364.9h.9v.9h-.9zM62.7 361.2h.9v.9h-.9zM66.7 360.2h.9v.9h-.9zM59.1 362.5h.9v.9h-.9zM57.2 361.1h.9v.9h-.9zM53.3 353.3h.9v.9h-.9zM53.5 358.4h.9v.9h-.9zM63.0 366.5h.9v.9h-.9zM40.3 362.3h.9v.9h-.9zM33.1 356.7h.9v.9h-.9zM55.2 349.3h.9v.9h-.9zM38.1 362.6h.9v.9h-.9zM63.5 359.9h.9v.9h-.9zM52.5 372.1h.9v.9h-.9zM60.1 356.2h.9v.9h-.9zM84.7 362.5h.9v.9h-.9zM57.9 366.9h.9v.9h-.9zM64.7 363.7h.9v.9h-.9zM65.3 355.1h.9v.9h-.9zM75.3 360.7h.9v.9h-.9zM49.0 357.3h.9v.9h-.9zM75.0 358.0h.9v.9h-.9zM63.3 363.8h.9v.9h-.9zM63.8 352.6h.9v.9h-.9zM71.1 364.9h.9v.9h-.9zM74.3 368.2h.9v.9h-.9zM67.5 364.2h.9v.9h-.9zM83.3 357.9h.9v.9h-.9zM85.8 368.2h.9v.9h-.9zM73.3 369.4h.9v.9h-.9zM73.5 355.4h.9v.9h-.9zM77.6 361.4h.9v.9h-.9zM68.0 361.0h.9v.9h-.9zM80.5 362.4h.9v.9h-.9zM53.5 363.5h.9v.9h-.9zM71.9 356.3h.9v.9h-.9zM56.7 358.8h.9v.9h-.9zM54.6 362.7h.9v.9h-.9zM76.4 369.5h.9v.9h-.9zM78.5 364.9h.9v.9h-.9zM77.9 366.5h.9v.9h-.9zM57.7 364.3h.9v.9h-.9zM66.7 359.6h.9v.9h-.9zM56.4 358.2h.9v.9h-.9zM58.6 354.4h.9v.9h-.9zM69.4 360.0h.9v.9h-.9zM64.0 362.2h.9v.9h-.9zM71.9 357.0h.9v.9h-.9zM60.7 352.3h.9v.9h-.9zM32.8 352.1h.9v.9h-.9zM82.2 350.1h.9v.9h-.9zM69.1 367.7h.9v.9h-.9zM56.9 369.1h.9v.9h-.9zM87.1 364.1h.9v.9h-.9zM93.9 362.0h.9v.9h-.9zM53.1 363.7h.9v.9h-.9zM56.4 354.2h.9v.9h-.9zM46.4 373.2h.9v.9h-.9zM55.4 360.8h.9v.9h-.9zM53.9 361.7h.9v.9h-.9zM59.4 358.6h.9v.9h-.9zM46.3 354.2h.9v.9h-.9zM52.9 362.6h.9v.9h-.9zM90.3 364.5h.9v.9h-.9zM86.8 361.8h.9v.9h-.9zM61.2 353.9h.9v.9h-.9zM62.2 349.6h.9v.9h-.9zM59.2 369.1h.9v.9h-.9zM67.4 366.1h.9v.9h-.9zM57.4 353.8h.9v.9h-.9zM56.4 358.9h.9v.9h-.9zM79.2 369.9h.9v.9h-.9zM53.0 359.3h.9v.9h-.9zM60.8 358.9h.9v.9h-.9zM46.5 361.9h.9v.9h-.9zM67.7 362.3h.9v.9h-.9zM46.9 360.9h.9v.9h-.9zM40.2 366.5h.9v.9h-.9zM49.4 359.9h.9v.9h-.9zM56.8 357.9h.9v.9h-.9zM48.5 352.3h.9v.9h-.9zM85.7 360.7h.9v.9h-.9zM66.9 371.2h.9v.9h-.9zM61.7 363.5h.9v.9h-.9zM63.5 366.7h.9v.9h-.9zM69.6 361.9h.9v.9h-.9zM59.6 362.2h.9v.9h-.9zM77.7 349.2h.9v.9h-.9zM61.1 358.6h.9v.9h-.9zM58.4 350.7h.9v.9h-.9zM72.3 355.8h.9v.9h-.9zM59.8 358.2h.9v.9h-.9zM40.8 359.5h.9v.9h-.9zM38.5 357.1h.9v.9h-.9zM58.8 360.8h.9v.9h-.9zM63.6 359.9h.9v.9h-.9zM91.2 361.4h.9v.9h-.9zM46.7 358.4h.9v.9h-.9zM54.2 360.2h.9v.9h-.9zM54.8 356.7h.9v.9h-.9zM84.7 359.7h.9v.9h-.9zM58.4 359.6h.9v.9h-.9zM60.5 367.9h.9v.9h-.9zM69.5 366.1h.9v.9h-.9zM77.4 370.0h.9v.9h-.9zM62.9 351.9h.9v.9h-.9zM70.6 357.2h.9v.9h-.9zM39.2 358.7h.9v.9h-.9zM77.2 366.1h.9v.9h-.9zM72.2 354.8h.9v.9h-.9zM95.8 352.9h.9v.9h-.9zM61.6 353.3h.9v.9h-.9zM80.4 362.0h.9v.9h-.9zM74.7 360.5h.9v.9h-.9zM62.2 361.6h.9v.9h-.9zM38.4 367.1h.9v.9h-.9zM74.9 358.0h.9v.9h-.9zM62.9 362.2h.9v.9h-.9zM83.8 361.8h.9v.9h-.9zM63.5 358.1h.9v.9h-.9zM43.1 358.7h.9v.9h-.9zM63.9 359.4h.9v.9h-.9zM64.3 364.5h.9v.9h-.9zM53.7 362.8h.9v.9h-.9zM49.6 362.5h.9v.9h-.9zM62.4 363.5h.9v.9h-.9zM31.6 369.6h.9v.9h-.9zM39.7 366.8h.9v.9h-.9zM61.7 367.2h.9v.9h-.9zM60.7 355.4h.9v.9h-.9zM41.7 362.9h.9v.9h-.9zM59.4 361.4h.9v.9h-.9zM43.2 366.5h.9v.9h-.9zM56.8 352.1h.9v.9h-.9zM56.0 361.7h.9v.9h-.9zM28.3 364.8h.9v.9h-.9zM62.1 367.7h.9v.9h-.9zM61.4 360.7h.9v.9h-.9zM58.2 352.4h.9v.9h-.9zM43.9 364.2h.9v.9h-.9zM57.9 354.5h.9v.9h-.9zM58.0 369.1h.9v.9h-.9zM51.3 355.3h.9v.9h-.9zM53.2 352.1h.9v.9h-.9zM50.7 359.8h.9v.9h-.9zM53.4 363.2h.9v.9h-.9zM59.3 357.5h.9v.9h-.9zM55.3 364.9h.9v.9h-.9zM43.9 367.0h.9v.9h-.9zM47.5 342.6h.9v.9h-.9zM44.9 359.9h.9v.9h-.9zM57.1 351.8h.9v.9h-.9zM35.1 364.0h.9v.9h-.9zM52.1 362.3h.9v.9h-.9zM57.0 356.8h.9v.9h-.9zM51.9 358.8h.9v.9h-.9zM37.2 358.5h.9v.9h-.9zM61.2 354.7h.9v.9h-.9zM37.6 355.9h.9v.9h-.9zM29.0 367.8h.9v.9h-.9zM46.2 362.5h.9v.9h-.9zM39.3 361.0h.9v.9h-.9zM41.6 362.6h.9v.9h-.9zM51.0 361.5h.9v.9h-.9zM61.4 358.7h.9v.9h-.9zM58.1 367.1h.9v.9h-.9zM49.9 355.8h.9v.9h-.9zM31.9 355.0h.9v.9h-.9zM49.0 362.7h.9v.9h-.9zM39.1 364.2h.9v.9h-.9zM41.6 361.9h.9v.9h-.9zM43.3 363.9h.9v.9h-.9zM39.2 364.8h.9v.9h-.9zM57.7 357.9h.9v.9h-.9zM52.4 352.9h.9v.9h-.9zM38.7 366.3h.9v.9h-.9zM35.4 370.6h.9v.9h-.9zM58.9 362.6h.9v.9h-.9zM59.9 363.5h.9v.9h-.9zM58.6 359.0h.9v.9h-.9zM61.9 367.0h.9v.9h-.9zM40.5 369.4h.9v.9h-.9zM54.3 360.2h.9v.9h-.9zM32.9 366.2h.9v.9h-.9zM45.4 359.5h.9v.9h-.9zM46.5 369.2h.9v.9h-.9zM59.7 367.2h.9v.9h-.9zM54.9 351.3h.9v.9h-.9zM55.0 359.0h.9v.9h-.9zM51.0 356.6h.9v.9h-.9zM55.5 355.8h.9v.9h-.9zM61.8 361.4h.9v.9h-.9zM43.2 366.5h.9v.9h-.9zM58.1 362.6h.9v.9h-.9zM59.1 361.8h.9v.9h-.9zM31.6 348.2h.9v.9h-.9zM60.8 362.8h.9v.9h-.9zM39.8 355.8h.9v.9h-.9zM54.9 366.3h.9v.9h-.9zM55.1 350.3h.9v.9h-.9zM56.9 354.3h.9v.9h-.9zM48.7 356.8h.9v.9h-.9zM28.1 363.6h.9v.9h-.9zM48.8 358.8h.9v.9h-.9zM43.8 364.2h.9v.9h-.9zM33.3 361.2h.9v.9h-.9zM43.6 356.5h.9v.9h-.9zM56.1 374.6h.9v.9h-.9zM38.2 369.3h.9v.9h-.9zM38.7 351.3h.9v.9h-.9zM37.0 356.6h.9v.9h-.9zM43.0 359.5h.9v.9h-.9zM61.1 365.1h.9v.9h-.9zM59.0 362.4h.9v.9h-.9zM58.3 367.6h.9v.9h-.9zM50.0 371.3h.9v.9h-.9zM57.4 356.6h.9v.9h-.9zM49.2 364.2h.9v.9h-.9zM27.2 364.1h.9v.9h-.9zM38.6 357.4h.9v.9h-.9zM46.3 356.8h.9v.9h-.9zM54.4 359.2h.9v.9h-.9zM41.7 355.6h.9v.9h-.9zM47.1 362.5h.9v.9h-.9zM61.6 366.5h.9v.9h-.9zM58.2 361.9h.9v.9h-.9zM55.2 360.5h.9v.9h-.9zM56.1 365.7h.9v.9h-.9zM46.6 358.6h.9v.9h-.9zM30.7 357.9h.9v.9h-.9zM55.3 346.9h.9v.9h-.9zM55.0 363.9h.9v.9h-.9zM52.9 354.9h.9v.9h-.9zM29.2 370.6h.9v.9h-.9zM59.3 368.7h.9v.9h-.9zM36.9 355.7h.9v.9h-.9zM58.4 354.7h.9v.9h-.9zM59.6 353.4h.9v.9h-.9zM61.9 367.1h.9v.9h-.9zM57.4 359.6h.9v.9h-.9zM32.5 357.2h.9v.9h-.9zM43.4 360.1h.9v.9h-.9zM57.5 361.2h.9v.9h-.9zM59.1 360.7h.9v.9h-.9zM48.8 358.2h.9v.9h-.9zM53.4 360.6h.9v.9h-.9zM41.6 357.8h.9v.9h-.9zM50.5 361.1h.9v.9h-.9zM58.4 361.5h.9v.9h-.9zM51.2 361.4h.9v.9h-.9zM37.0 345.4h.9v.9h-.9zM61.8 351.2h.9v.9h-.9zM45.3 354.7h.9v.9h-.9zM49.8 354.4h.9v.9h-.9zM56.6 358.2h.9v.9h-.9zM39.7 352.8h.9v.9h-.9zM53.5 363.4h.9v.9h-.9zM48.2 372.0h.9v.9h-.9zM57.1 362.6h.9v.9h-.9zM60.7 361.3h.9v.9h-.9zM56.1 355.8h.9v.9h-.9zM57.6 363.4h.9v.9h-.9zM59.1 355.2h.9v.9h-.9zM59.1 358.1h.9v.9h-.9zM42.8 361.3h.9v.9h-.9zM54.9 357.8h.9v.9h-.9zM49.4 355.1h.9v.9h-.9z" fill="#000" fill-opacity="0.32"/>
</g>
<path d="M63.50 320.40L63.50 393.80" stroke="#8c9af3" stroke-width="0.9"/>
<path d="M26.30 380.00L107.60 380.00" stroke="#8c9af3" stroke-width="0.9"/>
<path d="M24.50 329.20L25.80 329.20" stroke="#777" stroke-width="0.6"/>
<path d="M24.50 338.50L25.80 338.50" stroke="#777" stroke-width="0.6"/>
<path d="M24.50 347.80L25.80 347.80" stroke="#777" stroke-width="0.6"/>
<path d="M24.50 357.10L25.80 357.10" stroke="#777" stroke-width="0.6"/>
<path d="M24.50 366.40L25.80 366.40" stroke="#777" stroke-width="0.6"/>
<path d="M24.50 375.70L25.80 375.70" stroke="#777" stroke-width="0.6"/>
<path d="M24.50 385.00L25.80 385.00" stroke="#777" stroke-width="0.6"/>
<path d="M31.68 394.30L31.68 395.50" stroke="#777" stroke-width="0.6"/>
<path d="M37.56 394.30L37.56 395.50" stroke="#777" stroke-width="0.6"/>
<path d="M43.44 394.30L43.44 395.50" stroke="#777" stroke-width="0.6"/>
<path d="M49.31 394.30L49.31 395.50" stroke="#777" stroke-width="0.6"/>
<path d="M55.19 394.30L55.19 395.50" stroke="#777" stroke-width="0.6"/>
<path d="M61.07 394.30L61.07 395.50" stroke="#777" stroke-width="0.6"/>
<path d="M66.95 394.30L66.95 395.50" stroke="#777" stroke-width="0.6"/>
<path d="M72.83 394.30L72.83 395.50" stroke="#777" stroke-width="0.6"/>
<path d="M78.71 394.30L78.71 395.50" stroke="#777" stroke-width="0.6"/>
<path d="M84.59 394.30L84.59 395.50" stroke="#777" stroke-width="0.6"/>
<path d="M90.46 394.30L90.46 395.50" stroke="#777" stroke-width="0.6"/>
<path d="M96.34 394.30L96.34 395.50" stroke="#777" stroke-width="0.6"/>
<path d="M102.22 394.30L102.22 395.50" stroke="#777" stroke-width="0.6"/>
<circle cx="28.400000000000002" cy="391.7" r="0.9" fill="none" stroke="#777" stroke-width="0.5"/>
<circle cx="105.5" cy="391.7" r="0.9" fill="none" stroke="#777" stroke-width="0.5"/>
<text x="33.59" y="332.46" font-size="8.8" textLength="20.05" lengthAdjust="spacingAndGlyphs" stroke="#000" stroke-width="0.15">53%</text>
<text x="81.93" y="332.63" font-size="8.8" textLength="19.86" lengthAdjust="spacingAndGlyphs" stroke="#000" stroke-width="0.15">47%</text>
<text x="77.09" y="389.64" font-size="8.8" textLength="18.98" lengthAdjust="spacingAndGlyphs" stroke="#000" stroke-width="0.15">+PF</text>
<path d="M20.90 399.00L20.90 246.00" stroke="#000" stroke-width="1.9"/>
<path d="M20.9 241.1 L18.1 247.0 L23.7 247.0 Z" fill="#000"/>
<path d="M19.95 399.00L106.50 399.00" stroke="#000" stroke-width="1.9"/>
<path d="M111.9 399.0 L106.0 396.2 L106.0 401.8 Z" fill="#000"/>
<text x="14.23" y="382.22" font-size="7.6" text-anchor="middle" font-weight="bold" transform="rotate(-90 14.23 382.22)" textLength="16.27" lengthAdjust="spacingAndGlyphs">NKp46</text>
<text x="20.75" y="409.65" font-size="9" textLength="22.0" lengthAdjust="spacingAndGlyphs" stroke="#000" stroke-width="0.15">IFN-γ</text>
<path d="M160.20 33.70L160.20 167.70" stroke="#000" stroke-width="1.5"/>
<path d="M158.20 34.30L160.20 34.30" stroke="#000" stroke-width="1.1"/>
<text x="157.45" y="37.25" font-size="8.2" text-anchor="end" textLength="10.0" lengthAdjust="spacingAndGlyphs" stroke="#000" stroke-width="0.15">80</text>
<path d="M158.20 67.47L160.20 67.47" stroke="#000" stroke-width="1.1"/>
<text x="157.45" y="70.42" font-size="8.2" text-anchor="end" textLength="10.0" lengthAdjust="spacingAndGlyphs" stroke="#000" stroke-width="0.15">60</text>
<path d="M158.20 100.65L160.20 100.65" stroke="#000" stroke-width="1.1"/>
<text x="157.45" y="103.6" font-size="8.2" text-anchor="end" textLength="10.0" lengthAdjust="spacingAndGlyphs" stroke="#000" stroke-width="0.15">40</text>
<path d="M158.20 133.82L160.20 133.82" stroke="#000" stroke-width="1.1"/>
<text x="157.45" y="136.77" font-size="8.2" text-anchor="end" textLength="10.0" lengthAdjust="spacingAndGlyphs" stroke="#000" stroke-width="0.15">20</text>
<path d="M158.20 167.00L160.20 167.00" stroke="#000" stroke-width="1.1"/>
<text x="157.45" y="169.95" font-size="8.2" text-anchor="end" textLength="5.0" lengthAdjust="spacingAndGlyphs" stroke="#000" stroke-width="0.15">0</text>
<path d="M159.50 167.00L209.80 167.00" stroke="#000" stroke-width="1.5"/>
<path d="M172.90 167.00L172.90 169.00" stroke="#000" stroke-width="1.1"/>
<path d="M197.30 167.00L197.30 169.00" stroke="#000" stroke-width="1.1"/>
<text x="137.15" y="101.17" font-size="8.2" text-anchor="middle" transform="rotate(-90 137.15 101.17)" textLength="88.54" lengthAdjust="spacingAndGlyphs" stroke="#000" stroke-width="0.4">IFN γ producing NK cells (%)</text>
<path d="M175.9 43.5 H198.0 V64" stroke="#000" stroke-width="1.4" fill="none"/>
<path d="M185.50 40.15L185.50 37.85M184.50 38.42L186.50 39.58M186.50 38.42L184.50 39.58" stroke="#000" stroke-width="0.95"/>
<circle cx="185.5" cy="39.0" r="0.7" fill="#000"/>
<path d="M188.40 40.15L188.40 37.85M187.40 38.42L189.40 39.58M189.40 38.42L187.40 39.58" stroke="#000" stroke-width="0.95"/>
<circle cx="188.4" cy="39.0" r="0.7" fill="#000"/>
<path d="M164.30 71.10L180.80 71.10" stroke="#000" stroke-width="1.4"/>
<path d="M190.00 91.80L205.40 91.80" stroke="#000" stroke-width="1.4"/>
<circle cx="172.9" cy="53.6" r="2.75" fill="#e3001b" stroke="#000" stroke-width="1.3"/>
<circle cx="172.6" cy="61.8" r="2.75" fill="#e3001b" stroke="#000" stroke-width="1.3"/>
<circle cx="172.6" cy="67.7" r="2.75" fill="#e3001b" stroke="#000" stroke-width="1.3"/>
<circle cx="166.9" cy="73.8" r="2.75" fill="#e3001b" stroke="#000" stroke-width="1.3"/>
<circle cx="178.2" cy="73.8" r="2.75" fill="#e3001b" stroke="#000" stroke-width="1.3"/>
<circle cx="172.6" cy="73.8" r="2.75" fill="#e3001b" stroke="#000" stroke-width="1.3"/>
<circle cx="172.6" cy="85.1" r="2.75" fill="#e3001b" stroke="#000" stroke-width="1.3"/>
<circle cx="197.4" cy="66.9" r="2.75" fill="#1447d1" stroke="#000" stroke-width="1.3"/>
<circle cx="197.4" cy="79.7" r="2.75" fill="#1447d1" stroke="#000" stroke-width="1.3"/>
<circle cx="192.3" cy="87.4" r="2.75" fill="#1447d1" stroke="#000" stroke-width="1.3"/>
<circle cx="192.3" cy="93.8" r="2.75" fill="#1447d1" stroke="#000" stroke-width="1.3"/>
<circle cx="202.8" cy="92.6" r="2.75" fill="#1447d1" stroke="#000" stroke-width="1.3"/>
<circle cx="197.4" cy="105.1" r="2.75" fill="#1447d1" stroke="#000" stroke-width="1.3"/>
<circle cx="197.4" cy="118.0" r="2.75" fill="#1447d1" stroke="#000" stroke-width="1.3"/>
<text x="176.4" y="178.43" font-size="8" text-anchor="end" transform="rotate(-45 176.4 178.43)" textLength="24.44" lengthAdjust="spacingAndGlyphs" stroke="#000" stroke-width="0.15">Trained</text>
<text x="201.15" y="178.21" font-size="8" text-anchor="end" transform="rotate(-45 201.15 178.21)" textLength="27.89" lengthAdjust="spacingAndGlyphs" stroke="#000" stroke-width="0.15">+25HC</text>
<path d="M264.30 37.64L264.30 164.30" stroke="#000" stroke-width="1.5"/>
<path d="M262.30 38.24L264.30 38.24" stroke="#000" stroke-width="1.1"/>
<text x="260.55" y="41.19" font-size="8.2" text-anchor="end" textLength="13.35" lengthAdjust="spacingAndGlyphs" stroke="#000" stroke-width="0.15">150</text>
<path d="M262.30 80.03L264.30 80.03" stroke="#000" stroke-width="1.1"/>
<text x="260.55" y="82.98" font-size="8.2" text-anchor="end" textLength="13.35" lengthAdjust="spacingAndGlyphs" stroke="#000" stroke-width="0.15">100</text>
<path d="M262.30 121.81L264.30 121.81" stroke="#000" stroke-width="1.1"/>
<text x="260.55" y="124.77" font-size="8.2" text-anchor="end" textLength="8.9" lengthAdjust="spacingAndGlyphs" stroke="#000" stroke-width="0.15">50</text>
<path d="M262.30 163.60L264.30 163.60" stroke="#000" stroke-width="1.1"/>
<text x="260.55" y="166.55" font-size="8.2" text-anchor="end" textLength="4.45" lengthAdjust="spacingAndGlyphs" stroke="#000" stroke-width="0.15">0</text>
<path d="M263.60 163.60L322.00 163.60" stroke="#000" stroke-width="1.5"/>
<path d="M274.00 163.60L274.00 165.60" stroke="#000" stroke-width="1.1"/>
<path d="M293.00 163.60L293.00 165.60" stroke="#000" stroke-width="1.1"/>
<path d="M312.50 163.60L312.50 165.60" stroke="#000" stroke-width="1.1"/>
<text x="236.94" y="100.17" font-size="8.2" text-anchor="middle" transform="rotate(-90 236.94 100.17)" textLength="48.22" lengthAdjust="spacingAndGlyphs" stroke="#000" stroke-width="0.4">% Specific lysis</text>
<path d="M273.90 71.50L273.90 79.20" stroke="#000" stroke-width="1.2"/>
<path d="M270.50 71.60L277.30 71.60" stroke="#000" stroke-width="1.5"/>
<path d="M270.50 79.20L277.30 79.20" stroke="#000" stroke-width="1.5"/>
<circle cx="273.9" cy="75.4" r="2.6" fill="#e3001b" stroke="#000" stroke-width="1.4"/>
<circle cx="293.2" cy="86.5" r="2.6" fill="#e3001b" stroke="#000" stroke-width="1.4"/>
<circle cx="312.1" cy="110.3" r="2.6" fill="#e3001b" stroke="#000" stroke-width="1.4"/>
<circle cx="273.8" cy="123.2" r="2.6" fill="#1b2d8c" stroke="#000" stroke-width="1.4"/>
<circle cx="293.1" cy="140.2" r="2.6" fill="#1b2d8c" stroke="#000" stroke-width="1.4"/>
<circle cx="312.6" cy="148.1" r="2.6" fill="#1b2d8c" stroke="#000" stroke-width="1.4"/>
<path d="M273.9 72.6V78.2" stroke="#700" stroke-width="1" stroke-opacity="0.6"/>
<path d="M312.1 107.4V113.2" stroke="#000" stroke-width="1.1" stroke-opacity="0.85"/><path d="M309.6 107.6H314.6M309.6 113.1H314.6" stroke="#000" stroke-width="1.2"/>
<path d="M273.9 75.4 L293.2 86.5 L312.1 110.3" stroke="#1f48cc" stroke-width="1.3" fill="none" stroke-dasharray="1.8 0.5"/>
<path d="M273.8 123.2 L293.1 140.2 L312.6 148.1" stroke="#e0101e" stroke-width="1.3" fill="none" stroke-dasharray="1.8 0.5"/>
<text x="278.61" y="171.34" font-size="8" text-anchor="end" transform="rotate(-45 278.61 171.34)" textLength="11.13" lengthAdjust="spacingAndGlyphs" stroke="#000" stroke-width="0.15">5:1</text>
<text x="296.97" y="171.42" font-size="8" text-anchor="end" transform="rotate(-45 296.97 171.42)" textLength="10.77" lengthAdjust="spacingAndGlyphs" stroke="#000" stroke-width="0.15">2:1</text>
<text x="316.53" y="172.02" font-size="8" text-anchor="end" transform="rotate(-45 316.53 172.02)" textLength="9.39" lengthAdjust="spacingAndGlyphs" stroke="#000" stroke-width="0.15">1:1</text>
<path d="M366.80 37.90L366.80 158.90" stroke="#000" stroke-width="1.5"/>
<path d="M364.80 38.50L366.80 38.50" stroke="#000" stroke-width="1.1"/>
<text x="363.55" y="41.45" font-size="8.2" text-anchor="end" textLength="13.41" lengthAdjust="spacingAndGlyphs" stroke="#000" stroke-width="0.15">120</text>
<path d="M364.80 58.45L366.80 58.45" stroke="#000" stroke-width="1.1"/>
<text x="363.55" y="61.4" font-size="8.2" text-anchor="end" textLength="13.41" lengthAdjust="spacingAndGlyphs" stroke="#000" stroke-width="0.15">100</text>
<path d="M364.80 78.40L366.80 78.40" stroke="#000" stroke-width="1.1"/>
<text x="363.55" y="81.35" font-size="8.2" text-anchor="end" textLength="8.94" lengthAdjust="spacingAndGlyphs" stroke="#000" stroke-width="0.15">80</text>
<path d="M364.80 98.35L366.80 98.35" stroke="#000" stroke-width="1.1"/>
<text x="363.55" y="101.3" font-size="8.2" text-anchor="end" textLength="8.94" lengthAdjust="spacingAndGlyphs" stroke="#000" stroke-width="0.15">60</text>
<path d="M364.80 118.30L366.80 118.30" stroke="#000" stroke-width="1.1"/>
<text x="363.55" y="121.25" font-size="8.2" text-anchor="end" textLength="8.94" lengthAdjust="spacingAndGlyphs" stroke="#000" stroke-width="0.15">40</text>
<path d="M364.80 138.25L366.80 138.25" stroke="#000" stroke-width="1.1"/>
<text x="363.55" y="141.2" font-size="8.2" text-anchor="end" textLength="8.94" lengthAdjust="spacingAndGlyphs" stroke="#000" stroke-width="0.15">20</text>
<path d="M364.80 158.20L366.80 158.20" stroke="#000" stroke-width="1.1"/>
<text x="363.55" y="161.15" font-size="8.2" text-anchor="end" textLength="4.47" lengthAdjust="spacingAndGlyphs" stroke="#000" stroke-width="0.15">0</text>
<path d="M366.10 158.20L421.20 158.20" stroke="#000" stroke-width="1.5"/>
<path d="M380.70 158.20L380.70 160.20" stroke="#000" stroke-width="1.1"/>
<path d="M407.80 158.20L407.80 160.20" stroke="#000" stroke-width="1.1"/>
<text x="339.17" y="98.57" font-size="8.2" text-anchor="middle" transform="rotate(-90 339.17 98.57)" textLength="52.31" lengthAdjust="spacingAndGlyphs" stroke="#000" stroke-width="0.4">Specific lysis (%)</text>
<path d="M380.7 47.2 V42.4 H408.7 V56.7" stroke="#000" stroke-width="1.4" fill="none"/>
<path d="M391.60 38.90L391.60 36.60M390.60 37.17L392.60 38.33M392.60 37.17L390.60 38.33" stroke="#000" stroke-width="0.95"/>
<circle cx="391.6" cy="37.75" r="0.7" fill="#000"/>
<path d="M394.85 38.90L394.85 36.60M393.85 37.17L395.85 38.33M395.85 37.17L393.85 38.33" stroke="#000" stroke-width="0.95"/>
<circle cx="394.85" cy="37.75" r="0.7" fill="#000"/>
<path d="M398.10 38.90L398.10 36.60M397.10 37.17L399.10 38.33M399.10 37.17L397.10 38.33" stroke="#000" stroke-width="0.95"/>
<circle cx="398.1" cy="37.75" r="0.7" fill="#000"/>
<circle cx="380.3" cy="60.6" r="2.5" fill="#e3001b" stroke="#000" stroke-width="1.1"/>
<circle cx="380.3" cy="63.0" r="2.5" fill="#e3001b" stroke="#000" stroke-width="1.1"/>
<circle cx="380.3" cy="64.4" r="2.5" fill="#e3001b" stroke="#000" stroke-width="1.1"/>
<circle cx="380.3" cy="65.4" r="2.5" fill="#e3001b" stroke="#000" stroke-width="1.1"/>
<circle cx="408.2" cy="84.2" r="2.5" fill="#1447d1" stroke="#000" stroke-width="1.1"/>
<circle cx="408.2" cy="90.1" r="2.5" fill="#1447d1" stroke="#000" stroke-width="1.1"/>
<circle cx="408.2" cy="92.3" r="2.5" fill="#1447d1" stroke="#000" stroke-width="1.1"/>
<circle cx="408.2" cy="95.4" r="2.5" fill="#1447d1" stroke="#000" stroke-width="1.1"/>
<path d="M380.3 61.0L408.2 84.2" stroke="#000" stroke-width="1.2" stroke-dasharray="1 0.6"/>
<path d="M380.8 65.0L407.8 92.6" stroke="#000" stroke-width="2.8" stroke-dasharray="0.9 0.75"/>
<text x="384.6" y="167.91" font-size="8" text-anchor="end" transform="rotate(-45 384.6 167.91)" textLength="25.0" lengthAdjust="spacingAndGlyphs" stroke="#000" stroke-width="0.15">Trained</text>
<text x="412.24" y="168.07" font-size="8" text-anchor="end" transform="rotate(-45 412.24 168.07)" textLength="28.82" lengthAdjust="spacingAndGlyphs" stroke="#000" stroke-width="0.15">+25HC</text>
<text x="472.98" y="22.72" font-size="9.5" font-weight="bold" textLength="32.58" lengthAdjust="spacingAndGlyphs">Human</text>
<path d="M471.00 38.00L471.00 162.40" stroke="#000" stroke-width="1.5"/>
<path d="M469.00 38.60L471.00 38.60" stroke="#000" stroke-width="1.1"/>
<text x="467.65" y="41.55" font-size="8.2" text-anchor="end" textLength="13.11" lengthAdjust="spacingAndGlyphs" stroke="#000" stroke-width="0.15">100</text>
<path d="M469.00 63.22L471.00 63.22" stroke="#000" stroke-width="1.1"/>
<text x="467.65" y="66.17" font-size="8.2" text-anchor="end" textLength="8.74" lengthAdjust="spacingAndGlyphs" stroke="#000" stroke-width="0.15">80</text>
<path d="M469.00 87.84L471.00 87.84" stroke="#000" stroke-width="1.1"/>
<text x="467.65" y="90.79" font-size="8.2" text-anchor="end" textLength="8.74" lengthAdjust="spacingAndGlyphs" stroke="#000" stroke-width="0.15">60</text>
<path d="M469.00 112.46L471.00 112.46" stroke="#000" stroke-width="1.1"/>
<text x="467.65" y="115.41" font-size="8.2" text-anchor="end" textLength="8.74" lengthAdjust="spacingAndGlyphs" stroke="#000" stroke-width="0.15">40</text>
<path d="M469.00 137.08L471.00 137.08" stroke="#000" stroke-width="1.1"/>
<text x="467.65" y="140.03" font-size="8.2" text-anchor="end" textLength="8.74" lengthAdjust="spacingAndGlyphs" stroke="#000" stroke-width="0.15">20</text>
<path d="M469.00 161.70L471.00 161.70" stroke="#000" stroke-width="1.1"/>
<text x="467.65" y="164.65" font-size="8.2" text-anchor="end" textLength="4.37" lengthAdjust="spacingAndGlyphs" stroke="#000" stroke-width="0.15">0</text>
<path d="M470.30 161.70L510.40 161.70" stroke="#000" stroke-width="1.5"/>
<path d="M480.40 161.70L480.40 163.70" stroke="#000" stroke-width="1.1"/>
<path d="M500.50 161.70L500.50 163.70" stroke="#000" stroke-width="1.1"/>
<text x="445.4" y="99.62" font-size="8.2" text-anchor="middle" transform="rotate(-90 445.4 99.62)" textLength="88.44" lengthAdjust="spacingAndGlyphs" stroke="#000" stroke-width="0.4">IFN γ producing NK cells (%)</text>
<path d="M478.3 40.5 H501.8 V57.9" stroke="#000" stroke-width="1.3" fill="none"/>
<path d="M488.90 36.60L488.90 34.30M487.90 34.88L489.90 36.03M489.90 34.88L487.90 36.03" stroke="#000" stroke-width="0.95"/>
<circle cx="488.9" cy="35.45" r="0.7" fill="#000"/>
<path d="M491.70 36.60L491.70 34.30M490.70 34.88L492.70 36.03M492.70 34.88L490.70 36.03" stroke="#000" stroke-width="0.95"/>
<circle cx="491.7" cy="35.45" r="0.7" fill="#000"/>
<path d="M474.00 69.30L486.80 69.30" stroke="#000" stroke-width="1.3"/>
<path d="M493.90 92.00L507.20 92.00" stroke="#444" stroke-width="1.2"/>
<circle cx="476.6" cy="49.7" r="2.6" fill="#e3001b" stroke="#000" stroke-width="1.3"/>
<circle cx="484.1" cy="47.8" r="2.6" fill="#e3001b" stroke="#000" stroke-width="1.3"/>
<circle cx="480.5" cy="79.1" r="2.6" fill="#e3001b" stroke="#000" stroke-width="1.3"/>
<circle cx="480.4" cy="100.8" r="2.6" fill="#e3001b" stroke="#000" stroke-width="1.3"/>
<circle cx="500.3" cy="64.3" r="2.6" fill="#1447d1" stroke="#000" stroke-width="1.3"/>
<circle cx="500.2" cy="81.1" r="2.6" fill="#1447d1" stroke="#000" stroke-width="1.3"/>
<circle cx="500.2" cy="103.0" r="2.6" fill="#1447d1" stroke="#000" stroke-width="1.3"/>
<circle cx="500.2" cy="123.6" r="2.6" fill="#1447d1" stroke="#000" stroke-width="1.3"/>
<text x="484.24" y="172.44" font-size="8" text-anchor="end" transform="rotate(-45 484.24 172.44)" textLength="25.22" lengthAdjust="spacingAndGlyphs" stroke="#000" stroke-width="0.15">Trained</text>
<text x="505.09" y="172.83" font-size="8" text-anchor="end" transform="rotate(-45 505.09 172.83)" textLength="27.1" lengthAdjust="spacingAndGlyphs" stroke="#000" stroke-width="0.15">+25HC</text>
<path d="M156.00 248.70L156.00 383.20" stroke="#000" stroke-width="1.5"/>
<path d="M154.00 249.30L156.00 249.30" stroke="#000" stroke-width="1.1"/>
<text x="152.65" y="252.25" font-size="8.2" text-anchor="end" textLength="8.5" lengthAdjust="spacingAndGlyphs" stroke="#000" stroke-width="0.15">70</text>
<path d="M154.00 282.60L156.00 282.60" stroke="#000" stroke-width="1.1"/>
<text x="152.65" y="285.55" font-size="8.2" text-anchor="end" textLength="8.5" lengthAdjust="spacingAndGlyphs" stroke="#000" stroke-width="0.15">60</text>
<path d="M154.00 315.90L156.00 315.90" stroke="#000" stroke-width="1.1"/>
<text x="152.65" y="318.85" font-size="8.2" text-anchor="end" textLength="8.5" lengthAdjust="spacingAndGlyphs" stroke="#000" stroke-width="0.15">50</text>
<path d="M154.00 349.20L156.00 349.20" stroke="#000" stroke-width="1.1"/>
<text x="152.65" y="352.15" font-size="8.2" text-anchor="end" textLength="8.5" lengthAdjust="spacingAndGlyphs" stroke="#000" stroke-width="0.15">40</text>
<path d="M154.00 382.50L156.00 382.50" stroke="#000" stroke-width="1.1"/>
<text x="152.65" y="385.45" font-size="8.2" text-anchor="end" textLength="8.5" lengthAdjust="spacingAndGlyphs" stroke="#000" stroke-width="0.15">30</text>
<path d="M155.30 382.50L205.80 382.50" stroke="#000" stroke-width="1.5"/>
<path d="M168.40 382.50L168.40 384.50" stroke="#000" stroke-width="1.1"/>
<path d="M193.30 382.50L193.30 384.50" stroke="#000" stroke-width="1.1"/>
<text x="129.16" y="315.1" font-size="8.2" text-anchor="middle" transform="rotate(-90 129.16 315.1)" textLength="87.7" lengthAdjust="spacingAndGlyphs" stroke="#000" stroke-width="0.4">IFN γ producing NK cells (%)</text>
<path d="M165.6 271.4 H195.8 V309" stroke="#000" stroke-width="1.4" fill="none"/>
<path d="M179.00 266.75L179.00 264.45M178.00 265.03L180.00 266.18M180.00 265.03L178.00 266.18" stroke="#000" stroke-width="0.95"/>
<circle cx="179.0" cy="265.6" r="0.7" fill="#000"/>
<path d="M182.10 266.75L182.10 264.45M181.10 265.03L183.10 266.18M183.10 265.03L181.10 266.18" stroke="#000" stroke-width="0.95"/>
<circle cx="182.1" cy="265.6" r="0.7" fill="#000"/>
<path d="M163.10 294.80L173.50 294.80" stroke="#000" stroke-width="1.4"/>
<path d="M185.20 331.70L200.80 331.70" stroke="#000" stroke-width="1.4"/>
<circle cx="168.5" cy="284.2" r="2.6" fill="#e3001b" stroke="#000" stroke-width="1.2"/>
<circle cx="163.1" cy="294.1" r="2.6" fill="#e3001b" stroke="#000" stroke-width="1.2"/>
<circle cx="173.5" cy="296.3" r="2.6" fill="#e3001b" stroke="#000" stroke-width="1.2"/>
<circle cx="168.2" cy="304.1" r="2.6" fill="#e3001b" stroke="#000" stroke-width="1.2"/>
<circle cx="187.8" cy="325.2" r="2.6" fill="#1447d1" stroke="#000" stroke-width="1.2"/>
<circle cx="198.7" cy="321.8" r="2.6" fill="#1447d1" stroke="#000" stroke-width="1.2"/>
<circle cx="193.5" cy="337.7" r="2.6" fill="#1447d1" stroke="#000" stroke-width="1.2"/>
<circle cx="193.5" cy="359.9" r="2.6" fill="#1447d1" stroke="#000" stroke-width="1.2"/>
<text x="172.59" y="392.93" font-size="8" text-anchor="end" transform="rotate(-45 172.59 392.93)" textLength="25.06" lengthAdjust="spacingAndGlyphs" stroke="#000" stroke-width="0.15">Trained</text>
<text x="198.95" y="393.05" font-size="8" text-anchor="end" transform="rotate(-45 198.95 393.05)" textLength="15.52" lengthAdjust="spacingAndGlyphs" stroke="#000" stroke-width="0.15">+PF</text>
<path d="M251.60 255.60L251.60 381.90" stroke="#000" stroke-width="1.5"/>
<path d="M249.60 256.20L251.60 256.20" stroke="#000" stroke-width="1.1"/>
<text x="248.75" y="259.15" font-size="8.2" text-anchor="end" textLength="13.5" lengthAdjust="spacingAndGlyphs" stroke="#000" stroke-width="0.15">150</text>
<path d="M249.60 297.87L251.60 297.87" stroke="#000" stroke-width="1.1"/>
<text x="248.75" y="300.82" font-size="8.2" text-anchor="end" textLength="13.5" lengthAdjust="spacingAndGlyphs" stroke="#000" stroke-width="0.15">100</text>
<path d="M249.60 339.53L251.60 339.53" stroke="#000" stroke-width="1.1"/>
<text x="248.75" y="342.48" font-size="8.2" text-anchor="end" textLength="9.0" lengthAdjust="spacingAndGlyphs" stroke="#000" stroke-width="0.15">50</text>
<path d="M249.60 381.20L251.60 381.20" stroke="#000" stroke-width="1.1"/>
<text x="248.75" y="384.15" font-size="8.2" text-anchor="end" textLength="4.5" lengthAdjust="spacingAndGlyphs" stroke="#000" stroke-width="0.15">0</text>
<path d="M250.90 381.20L309.00 381.20" stroke="#000" stroke-width="1.5"/>
<path d="M262.00 381.20L262.00 383.20" stroke="#000" stroke-width="1.1"/>
<path d="M280.70 381.20L280.70 383.20" stroke="#000" stroke-width="1.1"/>
<path d="M300.00 381.20L300.00 383.20" stroke="#000" stroke-width="1.1"/>
<text x="224.01" y="316.07" font-size="8.2" text-anchor="middle" transform="rotate(-90 224.01 316.07)" textLength="47.36" lengthAdjust="spacingAndGlyphs" stroke="#000" stroke-width="0.4">% Specific lysis</text>
<circle cx="261.4" cy="301.4" r="2.6" fill="#e3001b" stroke="#000" stroke-width="1.5"/>
<circle cx="280.4" cy="328.3" r="2.6" fill="#e3001b" stroke="#000" stroke-width="1.5"/>
<circle cx="299.7" cy="348.3" r="2.6" fill="#e3001b" stroke="#000" stroke-width="1.5"/>
<circle cx="261.4" cy="324.2" r="2.6" fill="#1b2d8c" stroke="#000" stroke-width="1.5"/>
<circle cx="280.4" cy="349.8" r="2.6" fill="#1b2d8c" stroke="#000" stroke-width="1.5"/>
<circle cx="299.7" cy="362.7" r="2.6" fill="#1b2d8c" stroke="#000" stroke-width="1.5"/>
<path d="M258.10 321.30L264.70 321.30" stroke="#000" stroke-width="1.5"/>
<path d="M258.10 327.10L264.70 327.10" stroke="#000" stroke-width="1.5"/>
<path d="M261.40 321.30L261.40 327.10" stroke="#000" stroke-width="1.1"/>
<path d="M277.10 325.40L283.70 325.40" stroke="#000" stroke-width="1.5"/>
<path d="M277.10 331.20L283.70 331.20" stroke="#000" stroke-width="1.5"/>
<path d="M280.40 325.40L280.40 331.20" stroke="#000" stroke-width="1.1"/>
<path d="M277.10 346.90L283.70 346.90" stroke="#000" stroke-width="1.5"/>
<path d="M277.10 352.70L283.70 352.70" stroke="#000" stroke-width="1.5"/>
<path d="M280.40 346.90L280.40 352.70" stroke="#000" stroke-width="1.1"/>
<circle cx="299.7" cy="348.3" r="2.4" fill="none" stroke="#000" stroke-width="1.8"/>
<path d="M299.70 345.80L299.70 350.80" stroke="#000" stroke-width="1.0"/>
<circle cx="299.7" cy="362.7" r="2.4" fill="none" stroke="#000" stroke-width="1.8"/>
<path d="M299.70 360.20L299.70 365.20" stroke="#000" stroke-width="1.0"/>
<path d="M261.4 301.4 L280.4 328.3 L299.7 348.3" stroke="#1f48cc" stroke-width="1.3" fill="none" stroke-dasharray="1.8 0.6"/>
<path d="M261.4 324.2 L280.4 349.8 L299.7 362.7" stroke="#e0101e" stroke-width="1.3" fill="none" stroke-dasharray="1.8 0.6"/>
<text x="265.35" y="392.54" font-size="8" text-anchor="end" transform="rotate(-45 265.35 392.54)" textLength="9.53" lengthAdjust="spacingAndGlyphs" stroke="#000" stroke-width="0.15">5:1</text>
<text x="283.58" y="392.47" font-size="8" text-anchor="end" transform="rotate(-45 283.58 392.47)" textLength="10.15" lengthAdjust="spacingAndGlyphs" stroke="#000" stroke-width="0.15">2:1</text>
<text x="302.98" y="391.74" font-size="8" text-anchor="end" transform="rotate(-45 302.98 391.74)" textLength="10.24" lengthAdjust="spacingAndGlyphs" stroke="#000" stroke-width="0.15">1:1</text>
<path d="M356.00 253.60L356.00 380.70" stroke="#000" stroke-width="1.5"/>
<path d="M354.00 254.20L356.00 254.20" stroke="#000" stroke-width="1.1"/>
<text x="352.75" y="257.15" font-size="8.2" text-anchor="end" textLength="13.29" lengthAdjust="spacingAndGlyphs" stroke="#000" stroke-width="0.15">120</text>
<path d="M354.00 275.17L356.00 275.17" stroke="#000" stroke-width="1.1"/>
<text x="352.75" y="278.12" font-size="8.2" text-anchor="end" textLength="13.29" lengthAdjust="spacingAndGlyphs" stroke="#000" stroke-width="0.15">100</text>
<path d="M354.00 296.14L356.00 296.14" stroke="#000" stroke-width="1.1"/>
<text x="352.75" y="299.09" font-size="8.2" text-anchor="end" textLength="8.86" lengthAdjust="spacingAndGlyphs" stroke="#000" stroke-width="0.15">80</text>
<path d="M354.00 317.10L356.00 317.10" stroke="#000" stroke-width="1.1"/>
<text x="352.75" y="320.05" font-size="8.2" text-anchor="end" textLength="8.86" lengthAdjust="spacingAndGlyphs" stroke="#000" stroke-width="0.15">60</text>
<path d="M354.00 338.07L356.00 338.07" stroke="#000" stroke-width="1.1"/>
<text x="352.75" y="341.02" font-size="8.2" text-anchor="end" textLength="8.86" lengthAdjust="spacingAndGlyphs" stroke="#000" stroke-width="0.15">40</text>
<path d="M354.00 359.03L356.00 359.03" stroke="#000" stroke-width="1.1"/>
<text x="352.75" y="361.98" font-size="8.2" text-anchor="end" textLength="8.86" lengthAdjust="spacingAndGlyphs" stroke="#000" stroke-width="0.15">20</text>
<path d="M354.00 380.00L356.00 380.00" stroke="#000" stroke-width="1.1"/>
<text x="352.75" y="382.95" font-size="8.2" text-anchor="end" textLength="4.43" lengthAdjust="spacingAndGlyphs" stroke="#000" stroke-width="0.15">0</text>
<path d="M355.30 380.00L413.50 380.00" stroke="#000" stroke-width="1.5"/>
<path d="M370.40 380.00L370.40 382.00" stroke="#000" stroke-width="1.1"/>
<path d="M399.50 380.00L399.50 382.00" stroke="#000" stroke-width="1.1"/>
<text x="329.93" y="315.83" font-size="8.2" text-anchor="middle" transform="rotate(-90 329.93 315.83)" textLength="53.68" lengthAdjust="spacingAndGlyphs" stroke="#000" stroke-width="0.4">Specific lysis (%)</text>
<path d="M369.6 267 V263.2 H399.4 V294.3" stroke="#000" stroke-width="1.4" fill="none"/>
<path d="M383.90 260.15L383.90 257.85M382.90 258.43L384.90 259.57M384.90 258.43L382.90 259.57" stroke="#000" stroke-width="0.95"/>
<circle cx="383.9" cy="259.0" r="0.7" fill="#000"/>
<circle cx="370.5" cy="273.8" r="2.65" fill="#e3001b" stroke="#000" stroke-width="1.3"/>
<circle cx="370.5" cy="275.8" r="2.65" fill="#e3001b" stroke="#000" stroke-width="1.3"/>
<circle cx="370.5" cy="280.4" r="2.65" fill="#e3001b" stroke="#000" stroke-width="1.3"/>
<circle cx="399.6" cy="310.4" r="2.65" fill="#1447d1" stroke="#000" stroke-width="1.3"/>
<circle cx="399.6" cy="328.5" r="2.65" fill="#1447d1" stroke="#000" stroke-width="1.3"/>
<circle cx="399.6" cy="332.7" r="2.65" fill="#1447d1" stroke="#000" stroke-width="1.3"/>
<path d="M370.5 275.2L399.6 310.4" stroke="#000" stroke-width="1.2" stroke-dasharray="1 0.6"/>
<path d="M371.0 281.0L399.2 330.6" stroke="#000" stroke-width="2.8" stroke-dasharray="0.9 0.75"/>
<text x="374.45" y="391.21" font-size="8" text-anchor="end" transform="rotate(-45 374.45 391.21)" textLength="24.42" lengthAdjust="spacingAndGlyphs" stroke="#000" stroke-width="0.15">Trained</text>
<text x="403.14" y="391.87" font-size="8" text-anchor="end" transform="rotate(-45 403.14 391.87)" textLength="15.18" lengthAdjust="spacingAndGlyphs" stroke="#000" stroke-width="0.15">+PF</text>
<text x="474.0" y="235.03" font-size="9.5" font-weight="bold" textLength="32.91" lengthAdjust="spacingAndGlyphs">Human</text>
<path d="M468.00 248.60L468.00 381.50" stroke="#000" stroke-width="1.5"/>
<path d="M466.00 249.20L468.00 249.20" stroke="#000" stroke-width="1.1"/>
<text x="465.05" y="252.15" font-size="8.2" text-anchor="end" textLength="9.7" lengthAdjust="spacingAndGlyphs" stroke="#000" stroke-width="0.15">50</text>
<path d="M466.00 275.52L468.00 275.52" stroke="#000" stroke-width="1.1"/>
<text x="465.05" y="278.47" font-size="8.2" text-anchor="end" textLength="9.7" lengthAdjust="spacingAndGlyphs" stroke="#000" stroke-width="0.15">40</text>
<path d="M466.00 301.84L468.00 301.84" stroke="#000" stroke-width="1.1"/>
<text x="465.05" y="304.79" font-size="8.2" text-anchor="end" textLength="9.7" lengthAdjust="spacingAndGlyphs" stroke="#000" stroke-width="0.15">30</text>
<path d="M466.00 328.16L468.00 328.16" stroke="#000" stroke-width="1.1"/>
<text x="465.05" y="331.11" font-size="8.2" text-anchor="end" textLength="9.7" lengthAdjust="spacingAndGlyphs" stroke="#000" stroke-width="0.15">20</text>
<path d="M466.00 354.48L468.00 354.48" stroke="#000" stroke-width="1.1"/>
<text x="465.05" y="357.43" font-size="8.2" text-anchor="end" textLength="9.7" lengthAdjust="spacingAndGlyphs" stroke="#000" stroke-width="0.15">10</text>
<path d="M466.00 380.80L468.00 380.80" stroke="#000" stroke-width="1.1"/>
<text x="465.05" y="383.75" font-size="8.2" text-anchor="end" textLength="4.85" lengthAdjust="spacingAndGlyphs" stroke="#000" stroke-width="0.15">0</text>
<path d="M467.30 380.80L506.50 380.80" stroke="#000" stroke-width="1.5"/>
<path d="M477.90 380.80L477.90 382.80" stroke="#000" stroke-width="1.1"/>
<path d="M497.30 380.80L497.30 382.80" stroke="#000" stroke-width="1.1"/>
<text x="441.73" y="313.62" font-size="8.2" text-anchor="middle" transform="rotate(-90 441.73 313.62)" textLength="87.37" lengthAdjust="spacingAndGlyphs" stroke="#000" stroke-width="0.4">IFN γ producing NK cells (%)</text>
<path d="M479.0 260.4 H500.8 V322.7" stroke="#000" stroke-width="1.3" fill="none"/>
<path d="M489.60 257.35L489.60 255.05M488.60 255.62L490.60 256.77M490.60 255.62L488.60 256.77" stroke="#000" stroke-width="0.95"/>
<circle cx="489.6" cy="256.2" r="0.7" fill="#000"/>
<path d="M471.10 292.90L484.60 292.90" stroke="#000" stroke-width="1.3"/>
<path d="M490.80 333.50L501.20 333.50" stroke="#000" stroke-width="1.3"/>
<circle cx="477.8" cy="268.6" r="2.65" fill="#e3001b" stroke="#000" stroke-width="1.35"/>
<circle cx="477.8" cy="297.6" r="2.65" fill="#e3001b" stroke="#000" stroke-width="1.35"/>
<circle cx="477.8" cy="313.0" r="2.65" fill="#e3001b" stroke="#000" stroke-width="1.35"/>
<circle cx="493.6" cy="329.1" r="2.65" fill="#1447d1" stroke="#000" stroke-width="1.35"/>
<circle cx="501.0" cy="334.1" r="2.65" fill="#1447d1" stroke="#000" stroke-width="1.35"/>
<circle cx="497.2" cy="341.0" r="2.65" fill="#1447d1" stroke="#000" stroke-width="1.35"/>
<text x="480.7" y="390.46" font-size="8" text-anchor="end" transform="rotate(-45 480.7 390.46)" textLength="24.18" lengthAdjust="spacingAndGlyphs" stroke="#000" stroke-width="0.15">Trained</text>
<text x="504.05" y="391.12" font-size="8" text-anchor="end" transform="rotate(-45 504.05 391.12)" textLength="15.72" lengthAdjust="spacingAndGlyphs" stroke="#000" stroke-width="0.15">+PF</text>
</g>
</svg>
</body></html>
